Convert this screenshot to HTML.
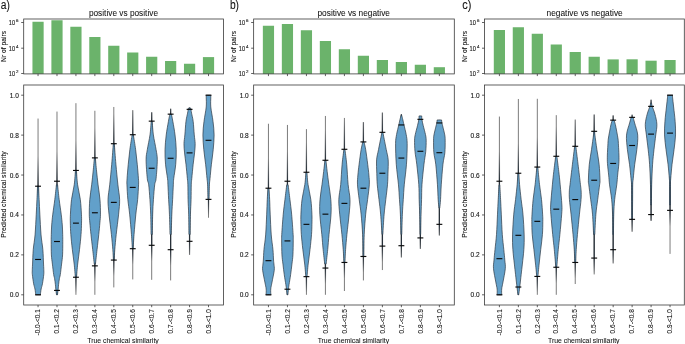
<!DOCTYPE html><html><head><meta charset="utf-8"><style>html,body{margin:0;padding:0;background:#fff;width:685px;height:344px;overflow:hidden}svg{display:block}text{font-family:"Liberation Sans", sans-serif;fill:#111;stroke:#111;stroke-width:0.1px}</style></head><body>
<svg width="685" height="344" viewBox="0 0 685 344">
<rect width="685" height="344" fill="#fff"/>
<defs><filter id="gs" x="0" y="0" width="685" height="344" filterUnits="userSpaceOnUse"><feColorMatrix type="saturate" values="0"/></filter></defs>
<rect x="32.45" y="21.75" width="11.2" height="52.15" fill="#6bb36b"/>
<rect x="51.39" y="20.25" width="11.2" height="53.65" fill="#6bb36b"/>
<rect x="70.33" y="26.75" width="11.2" height="47.15" fill="#6bb36b"/>
<rect x="89.27" y="37.00" width="11.2" height="36.90" fill="#6bb36b"/>
<rect x="108.21" y="45.75" width="11.2" height="28.15" fill="#6bb36b"/>
<rect x="127.15" y="52.50" width="11.2" height="21.40" fill="#6bb36b"/>
<rect x="146.09" y="56.75" width="11.2" height="17.15" fill="#6bb36b"/>
<rect x="165.03" y="61.00" width="11.2" height="12.90" fill="#6bb36b"/>
<rect x="183.97" y="63.75" width="11.2" height="10.15" fill="#6bb36b"/>
<rect x="202.91" y="57.10" width="11.2" height="16.80" fill="#6bb36b"/>
<rect x="23.70" y="19.00" width="199.80" height="54.90" fill="none" stroke="#3a3a3a" stroke-width="0.8"/>
<line x1="38.05" y1="73.90" x2="38.05" y2="76.10" stroke="#3a3a3a" stroke-width="0.8"/>
<line x1="56.99" y1="73.90" x2="56.99" y2="76.10" stroke="#3a3a3a" stroke-width="0.8"/>
<line x1="75.93" y1="73.90" x2="75.93" y2="76.10" stroke="#3a3a3a" stroke-width="0.8"/>
<line x1="94.87" y1="73.90" x2="94.87" y2="76.10" stroke="#3a3a3a" stroke-width="0.8"/>
<line x1="113.81" y1="73.90" x2="113.81" y2="76.10" stroke="#3a3a3a" stroke-width="0.8"/>
<line x1="132.75" y1="73.90" x2="132.75" y2="76.10" stroke="#3a3a3a" stroke-width="0.8"/>
<line x1="151.69" y1="73.90" x2="151.69" y2="76.10" stroke="#3a3a3a" stroke-width="0.8"/>
<line x1="170.63" y1="73.90" x2="170.63" y2="76.10" stroke="#3a3a3a" stroke-width="0.8"/>
<line x1="189.57" y1="73.90" x2="189.57" y2="76.10" stroke="#3a3a3a" stroke-width="0.8"/>
<line x1="208.51" y1="73.90" x2="208.51" y2="76.10" stroke="#3a3a3a" stroke-width="0.8"/>
<line x1="21.20" y1="22.50" x2="23.70" y2="22.50" stroke="#3a3a3a" stroke-width="0.8"/>
<line x1="21.20" y1="48.20" x2="23.70" y2="48.20" stroke="#3a3a3a" stroke-width="0.8"/>
<line x1="21.20" y1="73.50" x2="23.70" y2="73.50" stroke="#3a3a3a" stroke-width="0.8"/>
<rect x="23.70" y="85.00" width="199.80" height="220.00" fill="none" stroke="#3a3a3a" stroke-width="0.8"/>
<line x1="21.20" y1="294.80" x2="23.70" y2="294.80" stroke="#3a3a3a" stroke-width="0.8"/>
<line x1="21.20" y1="254.88" x2="23.70" y2="254.88" stroke="#3a3a3a" stroke-width="0.8"/>
<line x1="21.20" y1="214.96" x2="23.70" y2="214.96" stroke="#3a3a3a" stroke-width="0.8"/>
<line x1="21.20" y1="175.04" x2="23.70" y2="175.04" stroke="#3a3a3a" stroke-width="0.8"/>
<line x1="21.20" y1="135.12" x2="23.70" y2="135.12" stroke="#3a3a3a" stroke-width="0.8"/>
<line x1="21.20" y1="95.20" x2="23.70" y2="95.20" stroke="#3a3a3a" stroke-width="0.8"/>
<line x1="38.05" y1="305.00" x2="38.05" y2="307.20" stroke="#3a3a3a" stroke-width="0.8"/>
<line x1="56.99" y1="305.00" x2="56.99" y2="307.20" stroke="#3a3a3a" stroke-width="0.8"/>
<line x1="75.93" y1="305.00" x2="75.93" y2="307.20" stroke="#3a3a3a" stroke-width="0.8"/>
<line x1="94.87" y1="305.00" x2="94.87" y2="307.20" stroke="#3a3a3a" stroke-width="0.8"/>
<line x1="113.81" y1="305.00" x2="113.81" y2="307.20" stroke="#3a3a3a" stroke-width="0.8"/>
<line x1="132.75" y1="305.00" x2="132.75" y2="307.20" stroke="#3a3a3a" stroke-width="0.8"/>
<line x1="151.69" y1="305.00" x2="151.69" y2="307.20" stroke="#3a3a3a" stroke-width="0.8"/>
<line x1="170.63" y1="305.00" x2="170.63" y2="307.20" stroke="#3a3a3a" stroke-width="0.8"/>
<line x1="189.57" y1="305.00" x2="189.57" y2="307.20" stroke="#3a3a3a" stroke-width="0.8"/>
<line x1="208.51" y1="305.00" x2="208.51" y2="307.20" stroke="#3a3a3a" stroke-width="0.8"/>
<line x1="38.05" y1="118.55" x2="38.05" y2="294.80" stroke="#7c7c7c" stroke-width="1.0"/>
<linearGradient id="g0_0" gradientUnits="userSpaceOnUse" x1="0" y1="156.08" x2="0" y2="294.80"><stop offset="0.0000" stop-color="#1c2630" stop-opacity="0.00"/><stop offset="0.1295" stop-color="#1c2630" stop-opacity="0.55"/><stop offset="0.2158" stop-color="#1c2630" stop-opacity="0.90"/><stop offset="1.0000" stop-color="#1c2630" stop-opacity="0.90"/><stop offset="1.0000" stop-color="#1c2630" stop-opacity="0.55"/><stop offset="1.0000" stop-color="#1c2630" stop-opacity="0.90"/></linearGradient>
<line x1="38.05" y1="156.08" x2="38.05" y2="294.80" stroke="url(#g0_0)" stroke-width="1.3"/>
<path d="M40.35,294.80 C40.48,293.84 40.80,290.84 41.15,289.01 C41.50,287.18 42.02,286.22 42.45,283.82 C42.88,281.43 43.52,276.80 43.75,274.64 C43.98,272.48 43.88,272.61 43.85,270.85 C43.82,269.08 43.72,267.62 43.55,264.06 C43.38,260.50 43.27,254.35 42.85,249.49 C42.43,244.63 41.55,240.81 41.05,234.92 C40.55,229.03 40.17,220.05 39.85,214.16 C39.53,208.27 39.37,204.28 39.15,199.59 C38.93,194.90 38.65,188.28 38.55,186.02 L37.55,186.02 C37.45,188.28 37.17,194.90 36.95,199.59 C36.73,204.28 36.57,208.27 36.25,214.16 C35.93,220.05 35.55,229.03 35.05,234.92 C34.55,240.81 33.67,244.63 33.25,249.49 C32.83,254.35 32.72,260.50 32.55,264.06 C32.38,267.62 32.28,269.08 32.25,270.85 C32.22,272.61 32.12,272.48 32.35,274.64 C32.58,276.80 33.22,281.43 33.65,283.82 C34.08,286.22 34.60,287.18 34.95,289.01 C35.30,290.84 35.62,293.84 35.75,294.80 Z" fill="#62a0ca" stroke="#2c3844" stroke-width="0.7"/>
<line x1="35.10" y1="294.80" x2="41.00" y2="294.80" stroke="#0a0a0a" stroke-width="1.15"/>
<line x1="35.10" y1="259.47" x2="41.00" y2="259.47" stroke="#0a0a0a" stroke-width="1.15"/>
<line x1="35.10" y1="186.22" x2="41.00" y2="186.22" stroke="#0a0a0a" stroke-width="1.15"/>
<line x1="56.99" y1="111.57" x2="56.99" y2="294.80" stroke="#7c7c7c" stroke-width="1.0"/>
<linearGradient id="g0_1" gradientUnits="userSpaceOnUse" x1="0" y1="151.29" x2="0" y2="294.80"><stop offset="0.0000" stop-color="#1c2630" stop-opacity="0.00"/><stop offset="0.1252" stop-color="#1c2630" stop-opacity="0.55"/><stop offset="0.2086" stop-color="#1c2630" stop-opacity="0.90"/><stop offset="1.0000" stop-color="#1c2630" stop-opacity="0.90"/><stop offset="1.0000" stop-color="#1c2630" stop-opacity="0.55"/><stop offset="1.0000" stop-color="#1c2630" stop-opacity="0.90"/></linearGradient>
<line x1="56.99" y1="151.29" x2="56.99" y2="294.80" stroke="url(#g0_1)" stroke-width="1.3"/>
<path d="M57.49,294.80 C57.61,293.84 58.01,290.71 58.19,289.01 C58.37,287.31 58.39,286.35 58.59,284.62 C58.79,282.89 59.11,280.30 59.39,278.63 C59.67,276.97 59.92,277.07 60.29,274.64 C60.66,272.21 61.21,267.36 61.59,264.06 C61.97,260.77 62.39,258.61 62.59,254.88 C62.79,251.15 62.77,245.10 62.79,241.71 C62.81,238.31 62.77,237.32 62.69,234.52 C62.61,231.73 62.54,228.33 62.29,224.94 C62.04,221.55 61.71,218.39 61.19,214.16 C60.67,209.94 59.79,204.48 59.19,199.59 C58.59,194.70 57.86,187.28 57.59,184.82 L56.39,184.82 C56.12,187.28 55.39,194.70 54.79,199.59 C54.19,204.48 53.31,209.94 52.79,214.16 C52.27,218.39 51.94,221.55 51.69,224.94 C51.44,228.33 51.37,231.73 51.29,234.52 C51.21,237.32 51.17,238.31 51.19,241.71 C51.21,245.10 51.19,251.15 51.39,254.88 C51.59,258.61 52.01,260.77 52.39,264.06 C52.77,267.36 53.32,272.21 53.69,274.64 C54.06,277.07 54.31,276.97 54.59,278.63 C54.87,280.30 55.19,282.89 55.39,284.62 C55.59,286.35 55.61,287.31 55.79,289.01 C55.97,290.71 56.37,293.84 56.49,294.80 Z" fill="#62a0ca" stroke="#2c3844" stroke-width="0.7"/>
<line x1="54.04" y1="290.41" x2="59.94" y2="290.41" stroke="#0a0a0a" stroke-width="1.15"/>
<line x1="54.04" y1="241.51" x2="59.94" y2="241.51" stroke="#0a0a0a" stroke-width="1.15"/>
<line x1="54.04" y1="181.23" x2="59.94" y2="181.23" stroke="#0a0a0a" stroke-width="1.15"/>
<line x1="75.93" y1="103.18" x2="75.93" y2="294.80" stroke="#7c7c7c" stroke-width="1.0"/>
<linearGradient id="g0_2" gradientUnits="userSpaceOnUse" x1="0" y1="140.51" x2="0" y2="293.20"><stop offset="0.0000" stop-color="#1c2630" stop-opacity="0.00"/><stop offset="0.1176" stop-color="#1c2630" stop-opacity="0.55"/><stop offset="0.1961" stop-color="#1c2630" stop-opacity="0.90"/><stop offset="0.8954" stop-color="#1c2630" stop-opacity="0.90"/><stop offset="0.9412" stop-color="#1c2630" stop-opacity="0.55"/><stop offset="1.0000" stop-color="#1c2630" stop-opacity="0.00"/></linearGradient>
<line x1="75.93" y1="140.51" x2="75.93" y2="293.20" stroke="url(#g0_2)" stroke-width="1.3"/>
<path d="M76.53,277.24 C76.72,275.04 77.18,268.69 77.68,264.06 C78.18,259.44 78.97,254.41 79.53,249.49 C80.09,244.57 80.70,238.91 81.03,234.52 C81.36,230.13 81.46,226.54 81.53,223.14 C81.60,219.75 81.63,218.09 81.43,214.16 C81.23,210.24 80.96,204.48 80.33,199.59 C79.70,194.70 78.28,189.68 77.63,184.82 C76.98,179.96 76.63,172.84 76.43,170.45 L75.43,170.45 C75.23,172.84 74.88,179.96 74.23,184.82 C73.58,189.68 72.16,194.70 71.53,199.59 C70.90,204.48 70.63,210.24 70.43,214.16 C70.23,218.09 70.26,219.75 70.33,223.14 C70.40,226.54 70.50,230.13 70.83,234.52 C71.16,238.91 71.77,244.57 72.33,249.49 C72.89,254.41 73.68,259.44 74.18,264.06 C74.68,268.69 75.14,275.04 75.33,277.24 Z" fill="#62a0ca" stroke="#2c3844" stroke-width="0.7"/>
<line x1="72.98" y1="277.24" x2="78.88" y2="277.24" stroke="#0a0a0a" stroke-width="1.15"/>
<line x1="72.98" y1="223.14" x2="78.88" y2="223.14" stroke="#0a0a0a" stroke-width="1.15"/>
<line x1="72.98" y1="170.45" x2="78.88" y2="170.45" stroke="#0a0a0a" stroke-width="1.15"/>
<line x1="94.87" y1="110.77" x2="94.87" y2="294.80" stroke="#7c7c7c" stroke-width="1.0"/>
<linearGradient id="g0_3" gradientUnits="userSpaceOnUse" x1="0" y1="127.93" x2="0" y2="281.83"><stop offset="0.0000" stop-color="#1c2630" stop-opacity="0.00"/><stop offset="0.1167" stop-color="#1c2630" stop-opacity="0.55"/><stop offset="0.1946" stop-color="#1c2630" stop-opacity="0.90"/><stop offset="0.8962" stop-color="#1c2630" stop-opacity="0.90"/><stop offset="0.9416" stop-color="#1c2630" stop-opacity="0.55"/><stop offset="1.0000" stop-color="#1c2630" stop-opacity="0.00"/></linearGradient>
<line x1="94.87" y1="127.93" x2="94.87" y2="281.83" stroke="url(#g0_3)" stroke-width="1.3"/>
<path d="M95.47,264.06 C95.74,261.63 96.52,254.41 97.07,249.49 C97.62,244.57 98.30,238.95 98.77,234.52 C99.24,230.10 99.59,226.34 99.87,222.94 C100.15,219.55 100.45,218.05 100.47,214.16 C100.49,210.27 100.37,204.48 99.97,199.59 C99.57,194.70 98.64,189.58 98.07,184.82 C97.50,180.06 97.02,175.54 96.57,171.05 C96.12,166.56 95.57,160.07 95.37,157.87 L94.37,157.87 C94.17,160.07 93.62,166.56 93.17,171.05 C92.72,175.54 92.24,180.06 91.67,184.82 C91.10,189.58 90.17,194.70 89.77,199.59 C89.37,204.48 89.25,210.27 89.27,214.16 C89.29,218.05 89.59,219.55 89.87,222.94 C90.15,226.34 90.50,230.10 90.97,234.52 C91.44,238.95 92.12,244.57 92.67,249.49 C93.22,254.41 94.00,261.63 94.27,264.06 Z" fill="#62a0ca" stroke="#2c3844" stroke-width="0.7"/>
<line x1="91.92" y1="265.86" x2="97.82" y2="265.86" stroke="#0a0a0a" stroke-width="1.15"/>
<line x1="91.92" y1="212.76" x2="97.82" y2="212.76" stroke="#0a0a0a" stroke-width="1.15"/>
<line x1="91.92" y1="157.87" x2="97.82" y2="157.87" stroke="#0a0a0a" stroke-width="1.15"/>
<line x1="113.81" y1="106.98" x2="113.81" y2="287.41" stroke="#7c7c7c" stroke-width="1.0"/>
<linearGradient id="g0_4" gradientUnits="userSpaceOnUse" x1="0" y1="113.76" x2="0" y2="276.04"><stop offset="0.0000" stop-color="#1c2630" stop-opacity="0.00"/><stop offset="0.1107" stop-color="#1c2630" stop-opacity="0.55"/><stop offset="0.1845" stop-color="#1c2630" stop-opacity="0.90"/><stop offset="0.9016" stop-color="#1c2630" stop-opacity="0.90"/><stop offset="0.9446" stop-color="#1c2630" stop-opacity="0.55"/><stop offset="1.0000" stop-color="#1c2630" stop-opacity="0.00"/></linearGradient>
<line x1="113.81" y1="113.76" x2="113.81" y2="276.04" stroke="url(#g0_4)" stroke-width="1.3"/>
<path d="M114.21,260.07 C114.31,258.31 114.48,253.75 114.81,249.49 C115.14,245.23 115.58,240.41 116.21,234.52 C116.84,228.63 118.04,219.98 118.61,214.16 C119.18,208.34 119.73,204.48 119.61,199.59 C119.49,194.70 118.53,190.71 117.91,184.82 C117.29,178.93 116.51,171.11 115.91,164.26 C115.31,157.41 114.58,147.13 114.31,143.70 L113.31,143.70 C113.04,147.13 112.31,157.41 111.71,164.26 C111.11,171.11 110.33,178.93 109.71,184.82 C109.09,190.71 108.13,194.70 108.01,199.59 C107.89,204.48 108.44,208.34 109.01,214.16 C109.58,219.98 110.78,228.63 111.41,234.52 C112.04,240.41 112.48,245.23 112.81,249.49 C113.14,253.75 113.31,258.31 113.41,260.07 Z" fill="#62a0ca" stroke="#2c3844" stroke-width="0.7"/>
<line x1="110.86" y1="260.07" x2="116.76" y2="260.07" stroke="#0a0a0a" stroke-width="1.15"/>
<line x1="110.86" y1="202.39" x2="116.76" y2="202.39" stroke="#0a0a0a" stroke-width="1.15"/>
<line x1="110.86" y1="143.70" x2="116.76" y2="143.70" stroke="#0a0a0a" stroke-width="1.15"/>
<line x1="132.75" y1="110.17" x2="132.75" y2="279.43" stroke="#7c7c7c" stroke-width="1.0"/>
<linearGradient id="g0_5" gradientUnits="userSpaceOnUse" x1="0" y1="110.17" x2="0" y2="264.66"><stop offset="0.0000" stop-color="#1c2630" stop-opacity="0.16"/><stop offset="0.0814" stop-color="#1c2630" stop-opacity="0.55"/><stop offset="0.1589" stop-color="#1c2630" stop-opacity="0.90"/><stop offset="0.8966" stop-color="#1c2630" stop-opacity="0.90"/><stop offset="0.9419" stop-color="#1c2630" stop-opacity="0.55"/><stop offset="1.0000" stop-color="#1c2630" stop-opacity="0.00"/></linearGradient>
<line x1="132.75" y1="110.17" x2="132.75" y2="264.66" stroke="url(#g0_5)" stroke-width="1.3"/>
<path d="M133.15,248.69 C133.30,246.33 133.60,240.28 134.05,234.52 C134.50,228.77 135.25,219.98 135.85,214.16 C136.45,208.34 137.20,204.48 137.65,199.59 C138.10,194.70 138.42,188.28 138.55,184.82 C138.68,181.36 138.67,182.26 138.45,178.83 C138.23,175.41 137.72,169.12 137.25,164.26 C136.78,159.40 136.30,154.61 135.65,149.69 C135.00,144.77 133.73,137.22 133.35,134.72 L132.15,134.72 C131.77,137.22 130.50,144.77 129.85,149.69 C129.20,154.61 128.72,159.40 128.25,164.26 C127.78,169.12 127.27,175.41 127.05,178.83 C126.83,182.26 126.82,181.36 126.95,184.82 C127.08,188.28 127.40,194.70 127.85,199.59 C128.30,204.48 129.05,208.34 129.65,214.16 C130.25,219.98 131.00,228.77 131.45,234.52 C131.90,240.28 132.20,246.33 132.35,248.69 Z" fill="#62a0ca" stroke="#2c3844" stroke-width="0.7"/>
<line x1="129.80" y1="248.69" x2="135.70" y2="248.69" stroke="#0a0a0a" stroke-width="1.15"/>
<line x1="129.80" y1="187.42" x2="135.70" y2="187.42" stroke="#0a0a0a" stroke-width="1.15"/>
<line x1="129.80" y1="134.72" x2="135.70" y2="134.72" stroke="#0a0a0a" stroke-width="1.15"/>
<line x1="151.69" y1="112.37" x2="151.69" y2="279.83" stroke="#7c7c7c" stroke-width="1.0"/>
<linearGradient id="g0_6" gradientUnits="userSpaceOnUse" x1="0" y1="112.37" x2="0" y2="261.27"><stop offset="0.0000" stop-color="#1c2630" stop-opacity="0.64"/><stop offset="0.0000" stop-color="#1c2630" stop-opacity="0.55"/><stop offset="0.0590" stop-color="#1c2630" stop-opacity="0.90"/><stop offset="0.8928" stop-color="#1c2630" stop-opacity="0.90"/><stop offset="0.9397" stop-color="#1c2630" stop-opacity="0.55"/><stop offset="1.0000" stop-color="#1c2630" stop-opacity="0.00"/></linearGradient>
<line x1="151.69" y1="112.37" x2="151.69" y2="261.27" stroke="url(#g0_6)" stroke-width="1.3"/>
<path d="M152.29,234.52 C152.36,231.13 152.50,219.98 152.69,214.16 C152.88,208.34 153.11,204.48 153.44,199.59 C153.77,194.70 154.25,188.31 154.69,184.82 C155.13,181.33 155.66,182.79 156.09,178.63 C156.52,174.47 157.29,164.69 157.29,159.87 C157.29,155.05 156.74,153.85 156.09,149.69 C155.44,145.53 154.04,139.64 153.39,134.92 C152.74,130.20 152.39,123.61 152.19,121.35 L151.19,121.35 C150.99,123.61 150.64,130.20 149.99,134.92 C149.34,139.64 147.94,145.53 147.29,149.69 C146.64,153.85 146.09,155.05 146.09,159.87 C146.09,164.69 146.86,174.47 147.29,178.63 C147.72,182.79 148.25,181.33 148.69,184.82 C149.13,188.31 149.61,194.70 149.94,199.59 C150.27,204.48 150.50,208.34 150.69,214.16 C150.88,219.98 151.02,231.13 151.09,234.52 Z" fill="#62a0ca" stroke="#2c3844" stroke-width="0.7"/>
<line x1="148.74" y1="245.30" x2="154.64" y2="245.30" stroke="#0a0a0a" stroke-width="1.15"/>
<line x1="148.74" y1="168.25" x2="154.64" y2="168.25" stroke="#0a0a0a" stroke-width="1.15"/>
<line x1="148.74" y1="121.15" x2="154.64" y2="121.15" stroke="#0a0a0a" stroke-width="1.15"/>
<line x1="170.63" y1="108.77" x2="170.63" y2="280.43" stroke="#7c7c7c" stroke-width="1.0"/>
<linearGradient id="g0_7" gradientUnits="userSpaceOnUse" x1="0" y1="108.77" x2="0" y2="265.66"><stop offset="0.0000" stop-color="#1c2630" stop-opacity="0.74"/><stop offset="0.0000" stop-color="#1c2630" stop-opacity="0.55"/><stop offset="0.0344" stop-color="#1c2630" stop-opacity="0.90"/><stop offset="0.8982" stop-color="#1c2630" stop-opacity="0.90"/><stop offset="0.9427" stop-color="#1c2630" stop-opacity="0.55"/><stop offset="1.0000" stop-color="#1c2630" stop-opacity="0.00"/></linearGradient>
<line x1="170.63" y1="108.77" x2="170.63" y2="265.66" stroke="url(#g0_7)" stroke-width="1.3"/>
<path d="M171.23,234.52 C171.33,231.13 171.60,219.98 171.83,214.16 C172.06,208.34 172.38,204.48 172.63,199.59 C172.88,194.70 173.15,188.31 173.33,184.82 C173.51,181.33 173.33,182.06 173.73,178.63 C174.13,175.21 175.31,169.09 175.73,164.26 C176.15,159.44 176.35,154.58 176.23,149.69 C176.11,144.80 175.60,139.64 175.03,134.92 C174.46,130.20 173.43,124.81 172.83,121.35 C172.23,117.89 171.66,115.36 171.43,114.16 L169.83,114.16 C169.60,115.36 169.03,117.89 168.43,121.35 C167.83,124.81 166.80,130.20 166.23,134.92 C165.66,139.64 165.15,144.80 165.03,149.69 C164.91,154.58 165.11,159.44 165.53,164.26 C165.95,169.09 167.13,175.21 167.53,178.63 C167.93,182.06 167.75,181.33 167.93,184.82 C168.11,188.31 168.38,194.70 168.63,199.59 C168.88,204.48 169.20,208.34 169.43,214.16 C169.66,219.98 169.93,231.13 170.03,234.52 Z" fill="#62a0ca" stroke="#2c3844" stroke-width="0.7"/>
<line x1="167.68" y1="249.69" x2="173.58" y2="249.69" stroke="#0a0a0a" stroke-width="1.15"/>
<line x1="167.68" y1="158.27" x2="173.58" y2="158.27" stroke="#0a0a0a" stroke-width="1.15"/>
<line x1="167.68" y1="114.16" x2="173.58" y2="114.16" stroke="#0a0a0a" stroke-width="1.15"/>
<line x1="189.57" y1="107.58" x2="189.57" y2="254.88" stroke="#7c7c7c" stroke-width="1.0"/>
<linearGradient id="g0_8" gradientUnits="userSpaceOnUse" x1="0" y1="107.58" x2="0" y2="254.88"><stop offset="0.0000" stop-color="#1c2630" stop-opacity="0.88"/><stop offset="0.0000" stop-color="#1c2630" stop-opacity="0.55"/><stop offset="0.0041" stop-color="#1c2630" stop-opacity="0.90"/><stop offset="0.9079" stop-color="#1c2630" stop-opacity="0.90"/><stop offset="0.9553" stop-color="#1c2630" stop-opacity="0.55"/><stop offset="1.0000" stop-color="#1c2630" stop-opacity="0.13"/></linearGradient>
<line x1="189.57" y1="107.58" x2="189.57" y2="254.88" stroke="url(#g0_8)" stroke-width="1.3"/>
<path d="M190.17,234.52 C190.22,231.13 190.32,219.98 190.47,214.16 C190.62,208.34 190.94,204.48 191.07,199.59 C191.20,194.70 191.15,188.31 191.27,184.82 C191.39,181.33 191.45,182.06 191.77,178.63 C192.09,175.21 192.70,168.55 193.17,164.26 C193.64,159.97 194.24,156.31 194.57,152.88 C194.90,149.46 195.22,146.70 195.17,143.70 C195.12,140.71 194.60,138.65 194.27,134.92 C193.94,131.19 193.62,124.97 193.17,121.35 C192.72,117.72 191.97,115.36 191.57,113.16 C191.17,110.97 190.90,109.01 190.77,108.17 L188.37,108.17 C188.24,109.01 187.97,110.97 187.57,113.16 C187.17,115.36 186.42,117.72 185.97,121.35 C185.52,124.97 185.20,131.19 184.87,134.92 C184.54,138.65 184.02,140.71 183.97,143.70 C183.92,146.70 184.24,149.46 184.57,152.88 C184.90,156.31 185.50,159.97 185.97,164.26 C186.44,168.55 187.05,175.21 187.37,178.63 C187.69,182.06 187.75,181.33 187.87,184.82 C187.99,188.31 187.94,194.70 188.07,199.59 C188.20,204.48 188.52,208.34 188.67,214.16 C188.82,219.98 188.92,231.13 188.97,234.52 Z" fill="#62a0ca" stroke="#2c3844" stroke-width="0.7"/>
<line x1="186.62" y1="241.31" x2="192.52" y2="241.31" stroke="#0a0a0a" stroke-width="1.15"/>
<line x1="186.62" y1="152.88" x2="192.52" y2="152.88" stroke="#0a0a0a" stroke-width="1.15"/>
<line x1="186.62" y1="109.37" x2="192.52" y2="109.37" stroke="#0a0a0a" stroke-width="1.15"/>
<line x1="208.51" y1="95.20" x2="208.51" y2="217.75" stroke="#7c7c7c" stroke-width="1.0"/>
<linearGradient id="g0_9" gradientUnits="userSpaceOnUse" x1="0" y1="95.20" x2="0" y2="215.36"><stop offset="0.0000" stop-color="#1c2630" stop-opacity="0.90"/><stop offset="0.0000" stop-color="#1c2630" stop-opacity="0.55"/><stop offset="0.0000" stop-color="#1c2630" stop-opacity="0.90"/><stop offset="0.8671" stop-color="#1c2630" stop-opacity="0.90"/><stop offset="0.9252" stop-color="#1c2630" stop-opacity="0.55"/><stop offset="1.0000" stop-color="#1c2630" stop-opacity="0.00"/></linearGradient>
<line x1="208.51" y1="95.20" x2="208.51" y2="215.36" stroke="url(#g0_9)" stroke-width="1.3"/>
<path d="M209.01,199.39 C209.08,196.96 209.24,188.28 209.41,184.82 C209.58,181.36 209.68,182.06 210.01,178.63 C210.34,175.21 210.88,169.09 211.41,164.26 C211.94,159.44 212.76,154.58 213.21,149.69 C213.66,144.80 214.14,139.64 214.11,134.92 C214.08,130.20 213.56,126.00 213.01,121.35 C212.46,116.69 211.18,111.00 210.81,106.98 C210.44,102.95 210.81,99.16 210.81,97.20 C210.81,95.23 210.81,95.53 210.81,95.20 L206.21,95.20 C206.21,95.53 206.21,95.23 206.21,97.20 C206.21,99.16 206.58,102.95 206.21,106.98 C205.84,111.00 204.56,116.69 204.01,121.35 C203.46,126.00 202.94,130.20 202.91,134.92 C202.88,139.64 203.36,144.80 203.81,149.69 C204.26,154.58 205.08,159.44 205.61,164.26 C206.14,169.09 206.68,175.21 207.01,178.63 C207.34,182.06 207.44,181.36 207.61,184.82 C207.78,188.28 207.94,196.96 208.01,199.39 Z" fill="#62a0ca" stroke="#2c3844" stroke-width="0.7"/>
<line x1="205.56" y1="199.39" x2="211.46" y2="199.39" stroke="#0a0a0a" stroke-width="1.15"/>
<line x1="205.56" y1="140.31" x2="211.46" y2="140.31" stroke="#0a0a0a" stroke-width="1.15"/>
<line x1="205.56" y1="95.20" x2="211.46" y2="95.20" stroke="#0a0a0a" stroke-width="1.15"/>
<rect x="262.85" y="25.75" width="11.2" height="48.15" fill="#6bb36b"/>
<rect x="281.84" y="24.00" width="11.2" height="49.90" fill="#6bb36b"/>
<rect x="300.83" y="30.25" width="11.2" height="43.65" fill="#6bb36b"/>
<rect x="319.82" y="41.00" width="11.2" height="32.90" fill="#6bb36b"/>
<rect x="338.81" y="49.25" width="11.2" height="24.65" fill="#6bb36b"/>
<rect x="357.80" y="55.75" width="11.2" height="18.15" fill="#6bb36b"/>
<rect x="376.79" y="60.00" width="11.2" height="13.90" fill="#6bb36b"/>
<rect x="395.78" y="62.00" width="11.2" height="11.90" fill="#6bb36b"/>
<rect x="414.77" y="64.75" width="11.2" height="9.15" fill="#6bb36b"/>
<rect x="433.76" y="67.20" width="11.2" height="6.70" fill="#6bb36b"/>
<rect x="253.65" y="19.00" width="200.65" height="54.90" fill="none" stroke="#3a3a3a" stroke-width="0.8"/>
<line x1="268.45" y1="73.90" x2="268.45" y2="76.10" stroke="#3a3a3a" stroke-width="0.8"/>
<line x1="287.44" y1="73.90" x2="287.44" y2="76.10" stroke="#3a3a3a" stroke-width="0.8"/>
<line x1="306.43" y1="73.90" x2="306.43" y2="76.10" stroke="#3a3a3a" stroke-width="0.8"/>
<line x1="325.42" y1="73.90" x2="325.42" y2="76.10" stroke="#3a3a3a" stroke-width="0.8"/>
<line x1="344.41" y1="73.90" x2="344.41" y2="76.10" stroke="#3a3a3a" stroke-width="0.8"/>
<line x1="363.40" y1="73.90" x2="363.40" y2="76.10" stroke="#3a3a3a" stroke-width="0.8"/>
<line x1="382.39" y1="73.90" x2="382.39" y2="76.10" stroke="#3a3a3a" stroke-width="0.8"/>
<line x1="401.38" y1="73.90" x2="401.38" y2="76.10" stroke="#3a3a3a" stroke-width="0.8"/>
<line x1="420.37" y1="73.90" x2="420.37" y2="76.10" stroke="#3a3a3a" stroke-width="0.8"/>
<line x1="439.36" y1="73.90" x2="439.36" y2="76.10" stroke="#3a3a3a" stroke-width="0.8"/>
<line x1="251.15" y1="22.50" x2="253.65" y2="22.50" stroke="#3a3a3a" stroke-width="0.8"/>
<line x1="251.15" y1="48.20" x2="253.65" y2="48.20" stroke="#3a3a3a" stroke-width="0.8"/>
<line x1="251.15" y1="73.50" x2="253.65" y2="73.50" stroke="#3a3a3a" stroke-width="0.8"/>
<rect x="253.65" y="85.00" width="200.65" height="220.00" fill="none" stroke="#3a3a3a" stroke-width="0.8"/>
<line x1="251.15" y1="294.80" x2="253.65" y2="294.80" stroke="#3a3a3a" stroke-width="0.8"/>
<line x1="251.15" y1="254.88" x2="253.65" y2="254.88" stroke="#3a3a3a" stroke-width="0.8"/>
<line x1="251.15" y1="214.96" x2="253.65" y2="214.96" stroke="#3a3a3a" stroke-width="0.8"/>
<line x1="251.15" y1="175.04" x2="253.65" y2="175.04" stroke="#3a3a3a" stroke-width="0.8"/>
<line x1="251.15" y1="135.12" x2="253.65" y2="135.12" stroke="#3a3a3a" stroke-width="0.8"/>
<line x1="251.15" y1="95.20" x2="253.65" y2="95.20" stroke="#3a3a3a" stroke-width="0.8"/>
<line x1="268.45" y1="305.00" x2="268.45" y2="307.20" stroke="#3a3a3a" stroke-width="0.8"/>
<line x1="287.44" y1="305.00" x2="287.44" y2="307.20" stroke="#3a3a3a" stroke-width="0.8"/>
<line x1="306.43" y1="305.00" x2="306.43" y2="307.20" stroke="#3a3a3a" stroke-width="0.8"/>
<line x1="325.42" y1="305.00" x2="325.42" y2="307.20" stroke="#3a3a3a" stroke-width="0.8"/>
<line x1="344.41" y1="305.00" x2="344.41" y2="307.20" stroke="#3a3a3a" stroke-width="0.8"/>
<line x1="363.40" y1="305.00" x2="363.40" y2="307.20" stroke="#3a3a3a" stroke-width="0.8"/>
<line x1="382.39" y1="305.00" x2="382.39" y2="307.20" stroke="#3a3a3a" stroke-width="0.8"/>
<line x1="401.38" y1="305.00" x2="401.38" y2="307.20" stroke="#3a3a3a" stroke-width="0.8"/>
<line x1="420.37" y1="305.00" x2="420.37" y2="307.20" stroke="#3a3a3a" stroke-width="0.8"/>
<line x1="439.36" y1="305.00" x2="439.36" y2="307.20" stroke="#3a3a3a" stroke-width="0.8"/>
<line x1="268.45" y1="123.74" x2="268.45" y2="294.80" stroke="#7c7c7c" stroke-width="1.0"/>
<linearGradient id="g1_0" gradientUnits="userSpaceOnUse" x1="0" y1="158.27" x2="0" y2="294.80"><stop offset="0.0000" stop-color="#1c2630" stop-opacity="0.00"/><stop offset="0.1316" stop-color="#1c2630" stop-opacity="0.55"/><stop offset="0.2193" stop-color="#1c2630" stop-opacity="0.90"/><stop offset="1.0000" stop-color="#1c2630" stop-opacity="0.90"/><stop offset="1.0000" stop-color="#1c2630" stop-opacity="0.55"/><stop offset="1.0000" stop-color="#1c2630" stop-opacity="0.90"/></linearGradient>
<line x1="268.45" y1="158.27" x2="268.45" y2="294.80" stroke="url(#g1_0)" stroke-width="1.3"/>
<path d="M270.85,294.80 C270.83,293.84 270.55,291.14 270.75,289.01 C270.95,286.88 271.47,285.15 272.05,282.03 C272.63,278.90 273.93,273.24 274.25,270.25 C274.57,267.26 274.07,265.76 273.95,264.06 C273.83,262.37 273.72,262.50 273.55,260.07 C273.38,257.64 273.33,253.68 272.95,249.49 C272.57,245.30 271.71,240.81 271.25,234.92 C270.79,229.03 270.47,220.05 270.20,214.16 C269.93,208.27 269.86,203.92 269.65,199.59 C269.44,195.27 269.07,190.11 268.95,188.21 L267.95,188.21 C267.83,190.11 267.46,195.27 267.25,199.59 C267.04,203.92 266.97,208.27 266.70,214.16 C266.43,220.05 266.11,229.03 265.65,234.92 C265.19,240.81 264.33,245.30 263.95,249.49 C263.57,253.68 263.52,257.64 263.35,260.07 C263.18,262.50 263.07,262.37 262.95,264.06 C262.83,265.76 262.33,267.26 262.65,270.25 C262.97,273.24 264.27,278.90 264.85,282.03 C265.43,285.15 265.95,286.88 266.15,289.01 C266.35,291.14 266.07,293.84 266.05,294.80 Z" fill="#62a0ca" stroke="#2c3844" stroke-width="0.7"/>
<line x1="265.50" y1="294.80" x2="271.40" y2="294.80" stroke="#0a0a0a" stroke-width="1.15"/>
<line x1="265.50" y1="260.67" x2="271.40" y2="260.67" stroke="#0a0a0a" stroke-width="1.15"/>
<line x1="265.50" y1="188.21" x2="271.40" y2="188.21" stroke="#0a0a0a" stroke-width="1.15"/>
<line x1="287.44" y1="124.94" x2="287.44" y2="294.80" stroke="#7c7c7c" stroke-width="1.0"/>
<linearGradient id="g1_1" gradientUnits="userSpaceOnUse" x1="0" y1="151.29" x2="0" y2="294.80"><stop offset="0.0000" stop-color="#1c2630" stop-opacity="0.00"/><stop offset="0.1252" stop-color="#1c2630" stop-opacity="0.55"/><stop offset="0.2086" stop-color="#1c2630" stop-opacity="0.90"/><stop offset="1.0000" stop-color="#1c2630" stop-opacity="0.90"/><stop offset="1.0000" stop-color="#1c2630" stop-opacity="0.55"/><stop offset="1.0000" stop-color="#1c2630" stop-opacity="0.90"/></linearGradient>
<line x1="287.44" y1="151.29" x2="287.44" y2="294.80" stroke="url(#g1_1)" stroke-width="1.3"/>
<path d="M287.84,294.80 C287.94,293.87 288.24,290.91 288.44,289.21 C288.64,287.51 288.67,287.05 289.04,284.62 C289.41,282.19 290.16,278.07 290.64,274.64 C291.12,271.21 291.56,267.36 291.94,264.06 C292.32,260.77 292.72,258.74 292.94,254.88 C293.16,251.02 293.21,244.30 293.24,240.91 C293.27,237.51 293.41,238.98 293.14,234.52 C292.87,230.06 292.17,219.98 291.64,214.16 C291.11,208.34 290.52,204.48 289.94,199.59 C289.36,194.70 288.44,187.28 288.14,184.82 L286.74,184.82 C286.44,187.28 285.52,194.70 284.94,199.59 C284.36,204.48 283.77,208.34 283.24,214.16 C282.71,219.98 282.01,230.06 281.74,234.52 C281.47,238.98 281.61,237.51 281.64,240.91 C281.67,244.30 281.72,251.02 281.94,254.88 C282.16,258.74 282.56,260.77 282.94,264.06 C283.32,267.36 283.76,271.21 284.24,274.64 C284.72,278.07 285.47,282.19 285.84,284.62 C286.21,287.05 286.24,287.51 286.44,289.21 C286.64,290.91 286.94,293.87 287.04,294.80 Z" fill="#62a0ca" stroke="#2c3844" stroke-width="0.7"/>
<line x1="284.49" y1="289.21" x2="290.39" y2="289.21" stroke="#0a0a0a" stroke-width="1.15"/>
<line x1="284.49" y1="240.91" x2="290.39" y2="240.91" stroke="#0a0a0a" stroke-width="1.15"/>
<line x1="284.49" y1="181.23" x2="290.39" y2="181.23" stroke="#0a0a0a" stroke-width="1.15"/>
<line x1="306.43" y1="129.13" x2="306.43" y2="294.80" stroke="#7c7c7c" stroke-width="1.0"/>
<linearGradient id="g1_2" gradientUnits="userSpaceOnUse" x1="0" y1="142.31" x2="0" y2="292.60"><stop offset="0.0000" stop-color="#1c2630" stop-opacity="0.00"/><stop offset="0.1195" stop-color="#1c2630" stop-opacity="0.55"/><stop offset="0.1992" stop-color="#1c2630" stop-opacity="0.90"/><stop offset="0.8938" stop-color="#1c2630" stop-opacity="0.90"/><stop offset="0.9402" stop-color="#1c2630" stop-opacity="0.55"/><stop offset="1.0000" stop-color="#1c2630" stop-opacity="0.00"/></linearGradient>
<line x1="306.43" y1="142.31" x2="306.43" y2="292.60" stroke="url(#g1_2)" stroke-width="1.3"/>
<path d="M307.03,276.64 C307.22,274.54 307.68,268.59 308.18,264.06 C308.68,259.54 309.47,254.41 310.03,249.49 C310.59,244.57 311.21,238.71 311.53,234.52 C311.85,230.33 311.86,227.73 311.93,224.34 C312.00,220.95 312.11,218.29 311.93,214.16 C311.75,210.04 311.48,204.55 310.83,199.59 C310.18,194.63 308.68,188.98 308.03,184.42 C307.38,179.86 307.11,174.27 306.93,172.25 L305.93,172.25 C305.75,174.27 305.48,179.86 304.83,184.42 C304.18,188.98 302.68,194.63 302.03,199.59 C301.38,204.55 301.11,210.04 300.93,214.16 C300.75,218.29 300.86,220.95 300.93,224.34 C301.00,227.73 301.01,230.33 301.33,234.52 C301.65,238.71 302.27,244.57 302.83,249.49 C303.39,254.41 304.18,259.54 304.68,264.06 C305.18,268.59 305.64,274.54 305.83,276.64 Z" fill="#62a0ca" stroke="#2c3844" stroke-width="0.7"/>
<line x1="303.48" y1="276.64" x2="309.38" y2="276.64" stroke="#0a0a0a" stroke-width="1.15"/>
<line x1="303.48" y1="224.34" x2="309.38" y2="224.34" stroke="#0a0a0a" stroke-width="1.15"/>
<line x1="303.48" y1="172.25" x2="309.38" y2="172.25" stroke="#0a0a0a" stroke-width="1.15"/>
<line x1="325.42" y1="115.96" x2="325.42" y2="294.80" stroke="#7c7c7c" stroke-width="1.0"/>
<linearGradient id="g1_3" gradientUnits="userSpaceOnUse" x1="0" y1="130.33" x2="0" y2="284.02"><stop offset="0.0000" stop-color="#1c2630" stop-opacity="0.00"/><stop offset="0.1169" stop-color="#1c2630" stop-opacity="0.55"/><stop offset="0.1948" stop-color="#1c2630" stop-opacity="0.90"/><stop offset="0.8961" stop-color="#1c2630" stop-opacity="0.90"/><stop offset="0.9416" stop-color="#1c2630" stop-opacity="0.55"/><stop offset="1.0000" stop-color="#1c2630" stop-opacity="0.00"/></linearGradient>
<line x1="325.42" y1="130.33" x2="325.42" y2="284.02" stroke="url(#g1_3)" stroke-width="1.3"/>
<path d="M326.12,264.06 C326.39,261.63 327.24,254.41 327.72,249.49 C328.20,244.57 328.47,240.41 329.02,234.52 C329.57,228.63 330.72,219.98 331.02,214.16 C331.32,208.34 331.19,204.55 330.82,199.59 C330.45,194.63 329.43,189.11 328.82,184.42 C328.21,179.73 327.65,175.47 327.17,171.45 C326.69,167.42 326.13,162.13 325.92,160.27 L324.92,160.27 C324.71,162.13 324.15,167.42 323.67,171.45 C323.19,175.47 322.63,179.73 322.02,184.42 C321.41,189.11 320.39,194.63 320.02,199.59 C319.65,204.55 319.52,208.34 319.82,214.16 C320.12,219.98 321.27,228.63 321.82,234.52 C322.37,240.41 322.64,244.57 323.12,249.49 C323.60,254.41 324.45,261.63 324.72,264.06 Z" fill="#62a0ca" stroke="#2c3844" stroke-width="0.7"/>
<line x1="322.47" y1="268.05" x2="328.37" y2="268.05" stroke="#0a0a0a" stroke-width="1.15"/>
<line x1="322.47" y1="214.16" x2="328.37" y2="214.16" stroke="#0a0a0a" stroke-width="1.15"/>
<line x1="322.47" y1="160.27" x2="328.37" y2="160.27" stroke="#0a0a0a" stroke-width="1.15"/>
<line x1="344.41" y1="117.95" x2="344.41" y2="291.01" stroke="#7c7c7c" stroke-width="1.0"/>
<linearGradient id="g1_4" gradientUnits="userSpaceOnUse" x1="0" y1="119.35" x2="0" y2="278.43"><stop offset="0.0000" stop-color="#1c2630" stop-opacity="0.00"/><stop offset="0.1129" stop-color="#1c2630" stop-opacity="0.55"/><stop offset="0.1882" stop-color="#1c2630" stop-opacity="0.90"/><stop offset="0.8996" stop-color="#1c2630" stop-opacity="0.90"/><stop offset="0.9435" stop-color="#1c2630" stop-opacity="0.55"/><stop offset="1.0000" stop-color="#1c2630" stop-opacity="0.00"/></linearGradient>
<line x1="344.41" y1="119.35" x2="344.41" y2="278.43" stroke="url(#g1_4)" stroke-width="1.3"/>
<path d="M344.91,262.46 C345.03,260.30 345.28,254.15 345.61,249.49 C345.94,244.83 346.33,240.41 346.91,234.52 C347.49,228.63 348.59,219.98 349.11,214.16 C349.63,208.34 350.18,204.55 350.01,199.59 C349.84,194.63 348.66,190.31 348.11,184.42 C347.56,178.53 347.24,170.12 346.71,164.26 C346.18,158.41 345.21,151.79 344.91,149.29 L343.91,149.29 C343.61,151.79 342.64,158.41 342.11,164.26 C341.58,170.12 341.26,178.53 340.71,184.42 C340.16,190.31 338.98,194.63 338.81,199.59 C338.64,204.55 339.19,208.34 339.71,214.16 C340.23,219.98 341.33,228.63 341.91,234.52 C342.49,240.41 342.88,244.83 343.21,249.49 C343.54,254.15 343.79,260.30 343.91,262.46 Z" fill="#62a0ca" stroke="#2c3844" stroke-width="0.7"/>
<line x1="341.46" y1="262.46" x2="347.36" y2="262.46" stroke="#0a0a0a" stroke-width="1.15"/>
<line x1="341.46" y1="203.38" x2="347.36" y2="203.38" stroke="#0a0a0a" stroke-width="1.15"/>
<line x1="341.46" y1="149.29" x2="347.36" y2="149.29" stroke="#0a0a0a" stroke-width="1.15"/>
<line x1="363.40" y1="122.15" x2="363.40" y2="280.43" stroke="#7c7c7c" stroke-width="1.0"/>
<linearGradient id="g1_5" gradientUnits="userSpaceOnUse" x1="0" y1="122.15" x2="0" y2="272.44"><stop offset="0.0000" stop-color="#1c2630" stop-opacity="0.31"/><stop offset="0.0518" stop-color="#1c2630" stop-opacity="0.55"/><stop offset="0.1315" stop-color="#1c2630" stop-opacity="0.90"/><stop offset="0.8938" stop-color="#1c2630" stop-opacity="0.90"/><stop offset="0.9402" stop-color="#1c2630" stop-opacity="0.55"/><stop offset="1.0000" stop-color="#1c2630" stop-opacity="0.00"/></linearGradient>
<line x1="363.40" y1="122.15" x2="363.40" y2="272.44" stroke="url(#g1_5)" stroke-width="1.3"/>
<path d="M363.80,256.48 C363.87,252.82 363.88,241.57 364.20,234.52 C364.52,227.47 365.13,219.98 365.70,214.16 C366.27,208.34 367.00,204.48 367.60,199.59 C368.20,194.70 369.08,188.91 369.30,184.82 C369.52,180.73 369.17,178.47 368.90,175.04 C368.63,171.61 368.23,168.49 367.70,164.26 C367.17,160.04 366.32,153.42 365.70,149.69 C365.08,145.96 364.28,143.20 364.00,141.91 L362.80,141.91 C362.52,143.20 361.72,145.96 361.10,149.69 C360.48,153.42 359.63,160.04 359.10,164.26 C358.57,168.49 358.17,171.61 357.90,175.04 C357.63,178.47 357.28,180.73 357.50,184.82 C357.72,188.91 358.60,194.70 359.20,199.59 C359.80,204.48 360.53,208.34 361.10,214.16 C361.67,219.98 362.28,227.47 362.60,234.52 C362.92,241.57 362.93,252.82 363.00,256.48 Z" fill="#62a0ca" stroke="#2c3844" stroke-width="0.7"/>
<line x1="360.45" y1="256.48" x2="366.35" y2="256.48" stroke="#0a0a0a" stroke-width="1.15"/>
<line x1="360.45" y1="188.21" x2="366.35" y2="188.21" stroke="#0a0a0a" stroke-width="1.15"/>
<line x1="360.45" y1="141.91" x2="366.35" y2="141.91" stroke="#0a0a0a" stroke-width="1.15"/>
<line x1="382.39" y1="112.57" x2="382.39" y2="270.05" stroke="#7c7c7c" stroke-width="1.0"/>
<linearGradient id="g1_6" gradientUnits="userSpaceOnUse" x1="0" y1="112.57" x2="0" y2="262.07"><stop offset="0.0000" stop-color="#1c2630" stop-opacity="0.31"/><stop offset="0.0521" stop-color="#1c2630" stop-opacity="0.55"/><stop offset="0.1322" stop-color="#1c2630" stop-opacity="0.90"/><stop offset="0.8932" stop-color="#1c2630" stop-opacity="0.90"/><stop offset="0.9399" stop-color="#1c2630" stop-opacity="0.55"/><stop offset="1.0000" stop-color="#1c2630" stop-opacity="0.00"/></linearGradient>
<line x1="382.39" y1="112.57" x2="382.39" y2="262.07" stroke="url(#g1_6)" stroke-width="1.3"/>
<path d="M382.79,234.52 C383.01,231.13 383.64,219.98 384.14,214.16 C384.64,208.34 385.23,204.48 385.79,199.59 C386.35,194.70 387.12,189.21 387.49,184.82 C387.86,180.43 387.87,177.40 387.99,173.24 C388.11,169.09 388.47,163.80 388.19,159.87 C387.91,155.94 387.09,153.85 386.29,149.69 C385.49,145.53 383.94,137.81 383.39,134.92 C382.84,132.03 383.06,132.76 382.99,132.33 L381.79,132.33 C381.72,132.76 381.94,132.03 381.39,134.92 C380.84,137.81 379.29,145.53 378.49,149.69 C377.69,153.85 376.87,155.94 376.59,159.87 C376.31,163.80 376.67,169.09 376.79,173.24 C376.91,177.40 376.92,180.43 377.29,184.82 C377.66,189.21 378.43,194.70 378.99,199.59 C379.55,204.48 380.14,208.34 380.64,214.16 C381.14,219.98 381.76,231.13 381.99,234.52 Z" fill="#62a0ca" stroke="#2c3844" stroke-width="0.7"/>
<line x1="379.44" y1="246.10" x2="385.34" y2="246.10" stroke="#0a0a0a" stroke-width="1.15"/>
<line x1="379.44" y1="173.24" x2="385.34" y2="173.24" stroke="#0a0a0a" stroke-width="1.15"/>
<line x1="379.44" y1="132.33" x2="385.34" y2="132.33" stroke="#0a0a0a" stroke-width="1.15"/>
<line x1="401.38" y1="114.16" x2="401.38" y2="257.47" stroke="#7c7c7c" stroke-width="1.0"/>
<linearGradient id="g1_7" gradientUnits="userSpaceOnUse" x1="0" y1="114.16" x2="0" y2="257.47"><stop offset="0.0000" stop-color="#1c2630" stop-opacity="0.87"/><stop offset="0.0000" stop-color="#1c2630" stop-opacity="0.55"/><stop offset="0.0070" stop-color="#1c2630" stop-opacity="0.90"/><stop offset="0.9178" stop-color="#1c2630" stop-opacity="0.90"/><stop offset="0.9666" stop-color="#1c2630" stop-opacity="0.55"/><stop offset="1.0000" stop-color="#1c2630" stop-opacity="0.24"/></linearGradient>
<line x1="401.38" y1="114.16" x2="401.38" y2="257.47" stroke="url(#g1_7)" stroke-width="1.3"/>
<path d="M401.78,234.52 C401.88,231.13 402.13,219.98 402.38,214.16 C402.63,208.34 402.96,204.48 403.28,199.59 C403.60,194.70 403.75,190.71 404.28,184.82 C404.81,178.93 406.00,171.11 406.48,164.26 C406.96,157.41 407.23,148.66 407.18,143.70 C407.13,138.75 406.71,137.65 406.18,134.52 C405.65,131.39 404.53,127.37 403.98,124.94 C403.43,122.51 403.26,121.58 402.88,119.95 C402.50,118.32 401.88,115.96 401.68,115.16 L401.08,115.16 C400.88,115.96 400.26,118.32 399.88,119.95 C399.50,121.58 399.33,122.51 398.78,124.94 C398.23,127.37 397.11,131.39 396.58,134.52 C396.05,137.65 395.63,138.75 395.58,143.70 C395.53,148.66 395.80,157.41 396.28,164.26 C396.76,171.11 397.95,178.93 398.48,184.82 C399.01,190.71 399.16,194.70 399.48,199.59 C399.80,204.48 400.13,208.34 400.38,214.16 C400.63,219.98 400.88,231.13 400.98,234.52 Z" fill="#62a0ca" stroke="#2c3844" stroke-width="0.7"/>
<line x1="398.43" y1="245.70" x2="404.33" y2="245.70" stroke="#0a0a0a" stroke-width="1.15"/>
<line x1="398.43" y1="158.07" x2="404.33" y2="158.07" stroke="#0a0a0a" stroke-width="1.15"/>
<line x1="398.43" y1="124.94" x2="404.33" y2="124.94" stroke="#0a0a0a" stroke-width="1.15"/>
<line x1="420.37" y1="115.96" x2="420.37" y2="248.89" stroke="#7c7c7c" stroke-width="1.0"/>
<linearGradient id="g1_8" gradientUnits="userSpaceOnUse" x1="0" y1="115.96" x2="0" y2="248.89"><stop offset="0.0000" stop-color="#1c2630" stop-opacity="0.90"/><stop offset="0.0000" stop-color="#1c2630" stop-opacity="0.55"/><stop offset="0.0000" stop-color="#1c2630" stop-opacity="0.90"/><stop offset="0.9174" stop-color="#1c2630" stop-opacity="0.90"/><stop offset="0.9700" stop-color="#1c2630" stop-opacity="0.55"/><stop offset="1.0000" stop-color="#1c2630" stop-opacity="0.28"/></linearGradient>
<line x1="420.37" y1="115.96" x2="420.37" y2="248.89" stroke="url(#g1_8)" stroke-width="1.3"/>
<path d="M420.67,234.52 C420.74,231.13 420.92,219.98 421.07,214.16 C421.22,208.34 421.42,204.55 421.57,199.59 C421.72,194.63 421.57,190.31 421.97,184.42 C422.37,178.53 423.34,169.78 423.97,164.26 C424.60,158.74 425.40,155.31 425.77,151.29 C426.14,147.26 426.22,142.90 426.17,140.11 C426.12,137.32 425.95,136.92 425.47,134.52 C424.99,132.13 423.87,128.27 423.27,125.74 C422.67,123.21 422.12,120.98 421.87,119.35 C421.62,117.72 421.79,116.52 421.77,115.96 L418.97,115.96 C418.95,116.52 419.12,117.72 418.87,119.35 C418.62,120.98 418.07,123.21 417.47,125.74 C416.87,128.27 415.75,132.13 415.27,134.52 C414.79,136.92 414.62,137.32 414.57,140.11 C414.52,142.90 414.60,147.26 414.97,151.29 C415.34,155.31 416.14,158.74 416.77,164.26 C417.40,169.78 418.37,178.53 418.77,184.42 C419.17,190.31 419.02,194.63 419.17,199.59 C419.32,204.55 419.52,208.34 419.67,214.16 C419.82,219.98 420.00,231.13 420.07,234.52 Z" fill="#62a0ca" stroke="#2c3844" stroke-width="0.7"/>
<line x1="417.42" y1="237.91" x2="423.32" y2="237.91" stroke="#0a0a0a" stroke-width="1.15"/>
<line x1="417.42" y1="151.29" x2="423.32" y2="151.29" stroke="#0a0a0a" stroke-width="1.15"/>
<line x1="417.42" y1="119.35" x2="423.32" y2="119.35" stroke="#0a0a0a" stroke-width="1.15"/>
<line x1="439.36" y1="119.95" x2="439.36" y2="235.52" stroke="#7c7c7c" stroke-width="1.0"/>
<linearGradient id="g1_9" gradientUnits="userSpaceOnUse" x1="0" y1="119.95" x2="0" y2="235.52"><stop offset="0.0000" stop-color="#1c2630" stop-opacity="0.90"/><stop offset="0.0000" stop-color="#1c2630" stop-opacity="0.55"/><stop offset="0.0000" stop-color="#1c2630" stop-opacity="0.90"/><stop offset="0.9033" stop-color="#1c2630" stop-opacity="0.90"/><stop offset="0.9637" stop-color="#1c2630" stop-opacity="0.55"/><stop offset="1.0000" stop-color="#1c2630" stop-opacity="0.27"/></linearGradient>
<line x1="439.36" y1="119.95" x2="439.36" y2="235.52" stroke="url(#g1_9)" stroke-width="1.3"/>
<path d="M439.76,208.17 C439.89,206.74 440.31,203.48 440.56,199.59 C440.81,195.70 440.86,190.71 441.26,184.82 C441.66,178.93 442.36,169.62 442.96,164.26 C443.56,158.91 444.49,156.71 444.86,152.68 C445.23,148.66 445.18,143.07 445.16,140.11 C445.14,137.15 445.13,137.08 444.76,134.92 C444.39,132.76 443.43,129.13 442.96,127.14 C442.49,125.14 442.19,124.14 441.96,122.94 C441.73,121.75 441.63,120.45 441.56,119.95 L437.16,119.95 C437.09,120.45 436.99,121.75 436.76,122.94 C436.53,124.14 436.23,125.14 435.76,127.14 C435.29,129.13 434.33,132.76 433.96,134.92 C433.59,137.08 433.58,137.15 433.56,140.11 C433.54,143.07 433.49,148.66 433.86,152.68 C434.23,156.71 435.16,158.91 435.76,164.26 C436.36,169.62 437.06,178.93 437.46,184.82 C437.86,190.71 437.91,195.70 438.16,199.59 C438.41,203.48 438.83,206.74 438.96,208.17 Z" fill="#62a0ca" stroke="#2c3844" stroke-width="0.7"/>
<line x1="436.41" y1="224.34" x2="442.31" y2="224.34" stroke="#0a0a0a" stroke-width="1.15"/>
<line x1="436.41" y1="152.68" x2="442.31" y2="152.68" stroke="#0a0a0a" stroke-width="1.15"/>
<line x1="436.41" y1="122.94" x2="442.31" y2="122.94" stroke="#0a0a0a" stroke-width="1.15"/>
<rect x="493.80" y="30.00" width="11.2" height="43.90" fill="#6bb36b"/>
<rect x="512.76" y="27.25" width="11.2" height="46.65" fill="#6bb36b"/>
<rect x="531.72" y="33.75" width="11.2" height="40.15" fill="#6bb36b"/>
<rect x="550.68" y="44.50" width="11.2" height="29.40" fill="#6bb36b"/>
<rect x="569.64" y="52.00" width="11.2" height="21.90" fill="#6bb36b"/>
<rect x="588.60" y="56.75" width="11.2" height="17.15" fill="#6bb36b"/>
<rect x="607.56" y="59.40" width="11.2" height="14.50" fill="#6bb36b"/>
<rect x="626.52" y="59.30" width="11.2" height="14.60" fill="#6bb36b"/>
<rect x="645.48" y="60.70" width="11.2" height="13.20" fill="#6bb36b"/>
<rect x="664.44" y="60.00" width="11.2" height="13.90" fill="#6bb36b"/>
<rect x="484.50" y="19.00" width="199.80" height="54.90" fill="none" stroke="#3a3a3a" stroke-width="0.8"/>
<line x1="499.40" y1="73.90" x2="499.40" y2="76.10" stroke="#3a3a3a" stroke-width="0.8"/>
<line x1="518.36" y1="73.90" x2="518.36" y2="76.10" stroke="#3a3a3a" stroke-width="0.8"/>
<line x1="537.32" y1="73.90" x2="537.32" y2="76.10" stroke="#3a3a3a" stroke-width="0.8"/>
<line x1="556.28" y1="73.90" x2="556.28" y2="76.10" stroke="#3a3a3a" stroke-width="0.8"/>
<line x1="575.24" y1="73.90" x2="575.24" y2="76.10" stroke="#3a3a3a" stroke-width="0.8"/>
<line x1="594.20" y1="73.90" x2="594.20" y2="76.10" stroke="#3a3a3a" stroke-width="0.8"/>
<line x1="613.16" y1="73.90" x2="613.16" y2="76.10" stroke="#3a3a3a" stroke-width="0.8"/>
<line x1="632.12" y1="73.90" x2="632.12" y2="76.10" stroke="#3a3a3a" stroke-width="0.8"/>
<line x1="651.08" y1="73.90" x2="651.08" y2="76.10" stroke="#3a3a3a" stroke-width="0.8"/>
<line x1="670.04" y1="73.90" x2="670.04" y2="76.10" stroke="#3a3a3a" stroke-width="0.8"/>
<line x1="482.00" y1="22.50" x2="484.50" y2="22.50" stroke="#3a3a3a" stroke-width="0.8"/>
<line x1="482.00" y1="48.20" x2="484.50" y2="48.20" stroke="#3a3a3a" stroke-width="0.8"/>
<line x1="482.00" y1="73.50" x2="484.50" y2="73.50" stroke="#3a3a3a" stroke-width="0.8"/>
<rect x="484.50" y="85.00" width="199.80" height="220.00" fill="none" stroke="#3a3a3a" stroke-width="0.8"/>
<line x1="482.00" y1="294.80" x2="484.50" y2="294.80" stroke="#3a3a3a" stroke-width="0.8"/>
<line x1="482.00" y1="254.88" x2="484.50" y2="254.88" stroke="#3a3a3a" stroke-width="0.8"/>
<line x1="482.00" y1="214.96" x2="484.50" y2="214.96" stroke="#3a3a3a" stroke-width="0.8"/>
<line x1="482.00" y1="175.04" x2="484.50" y2="175.04" stroke="#3a3a3a" stroke-width="0.8"/>
<line x1="482.00" y1="135.12" x2="484.50" y2="135.12" stroke="#3a3a3a" stroke-width="0.8"/>
<line x1="482.00" y1="95.20" x2="484.50" y2="95.20" stroke="#3a3a3a" stroke-width="0.8"/>
<line x1="499.40" y1="305.00" x2="499.40" y2="307.20" stroke="#3a3a3a" stroke-width="0.8"/>
<line x1="518.36" y1="305.00" x2="518.36" y2="307.20" stroke="#3a3a3a" stroke-width="0.8"/>
<line x1="537.32" y1="305.00" x2="537.32" y2="307.20" stroke="#3a3a3a" stroke-width="0.8"/>
<line x1="556.28" y1="305.00" x2="556.28" y2="307.20" stroke="#3a3a3a" stroke-width="0.8"/>
<line x1="575.24" y1="305.00" x2="575.24" y2="307.20" stroke="#3a3a3a" stroke-width="0.8"/>
<line x1="594.20" y1="305.00" x2="594.20" y2="307.20" stroke="#3a3a3a" stroke-width="0.8"/>
<line x1="613.16" y1="305.00" x2="613.16" y2="307.20" stroke="#3a3a3a" stroke-width="0.8"/>
<line x1="632.12" y1="305.00" x2="632.12" y2="307.20" stroke="#3a3a3a" stroke-width="0.8"/>
<line x1="651.08" y1="305.00" x2="651.08" y2="307.20" stroke="#3a3a3a" stroke-width="0.8"/>
<line x1="670.04" y1="305.00" x2="670.04" y2="307.20" stroke="#3a3a3a" stroke-width="0.8"/>
<line x1="499.40" y1="116.56" x2="499.40" y2="294.80" stroke="#7c7c7c" stroke-width="1.0"/>
<linearGradient id="g2_0" gradientUnits="userSpaceOnUse" x1="0" y1="151.29" x2="0" y2="294.80"><stop offset="0.0000" stop-color="#1c2630" stop-opacity="0.00"/><stop offset="0.1252" stop-color="#1c2630" stop-opacity="0.55"/><stop offset="0.2086" stop-color="#1c2630" stop-opacity="0.90"/><stop offset="1.0000" stop-color="#1c2630" stop-opacity="0.90"/><stop offset="1.0000" stop-color="#1c2630" stop-opacity="0.55"/><stop offset="1.0000" stop-color="#1c2630" stop-opacity="0.90"/></linearGradient>
<line x1="499.40" y1="151.29" x2="499.40" y2="294.80" stroke="url(#g2_0)" stroke-width="1.3"/>
<path d="M501.70,294.80 C501.70,293.84 501.48,291.14 501.70,289.01 C501.92,286.88 502.40,285.42 503.00,282.03 C503.60,278.63 505.00,272.31 505.30,268.65 C505.60,264.99 505.05,263.26 504.80,260.07 C504.55,256.88 504.22,253.75 503.80,249.49 C503.38,245.23 502.72,240.41 502.30,234.52 C501.88,228.63 501.58,219.98 501.30,214.16 C501.02,208.34 500.85,204.48 500.60,199.59 C500.35,194.70 499.93,187.28 499.80,184.82 L499.00,184.82 C498.87,187.28 498.45,194.70 498.20,199.59 C497.95,204.48 497.78,208.34 497.50,214.16 C497.22,219.98 496.92,228.63 496.50,234.52 C496.08,240.41 495.42,245.23 495.00,249.49 C494.58,253.75 494.25,256.88 494.00,260.07 C493.75,263.26 493.20,264.99 493.50,268.65 C493.80,272.31 495.20,278.63 495.80,282.03 C496.40,285.42 496.88,286.88 497.10,289.01 C497.32,291.14 497.10,293.84 497.10,294.80 Z" fill="#62a0ca" stroke="#2c3844" stroke-width="0.7"/>
<line x1="496.45" y1="294.80" x2="502.35" y2="294.80" stroke="#0a0a0a" stroke-width="1.15"/>
<line x1="496.45" y1="258.67" x2="502.35" y2="258.67" stroke="#0a0a0a" stroke-width="1.15"/>
<line x1="496.45" y1="181.23" x2="502.35" y2="181.23" stroke="#0a0a0a" stroke-width="1.15"/>
<line x1="518.36" y1="98.99" x2="518.36" y2="294.80" stroke="#7c7c7c" stroke-width="1.0"/>
<linearGradient id="g2_1" gradientUnits="userSpaceOnUse" x1="0" y1="143.30" x2="0" y2="294.80"><stop offset="0.0000" stop-color="#1c2630" stop-opacity="0.00"/><stop offset="0.1186" stop-color="#1c2630" stop-opacity="0.55"/><stop offset="0.1976" stop-color="#1c2630" stop-opacity="0.90"/><stop offset="1.0000" stop-color="#1c2630" stop-opacity="0.90"/><stop offset="1.0000" stop-color="#1c2630" stop-opacity="0.55"/><stop offset="1.0000" stop-color="#1c2630" stop-opacity="0.90"/></linearGradient>
<line x1="518.36" y1="143.30" x2="518.36" y2="294.80" stroke="url(#g2_1)" stroke-width="1.3"/>
<path d="M518.76,294.80 C518.93,293.50 519.36,290.38 519.76,287.02 C520.16,283.66 520.73,278.47 521.16,274.64 C521.59,270.81 521.91,268.25 522.36,264.06 C522.81,259.87 523.56,254.35 523.86,249.49 C524.16,244.63 524.31,240.81 524.16,234.92 C524.01,229.03 523.46,220.05 522.96,214.16 C522.46,208.27 521.73,204.55 521.16,199.59 C520.59,194.63 519.94,188.81 519.56,184.42 C519.18,180.03 518.98,175.11 518.86,173.24 L517.86,173.24 C517.74,175.11 517.54,180.03 517.16,184.42 C516.78,188.81 516.13,194.63 515.56,199.59 C514.99,204.55 514.26,208.27 513.76,214.16 C513.26,220.05 512.71,229.03 512.56,234.92 C512.41,240.81 512.56,244.63 512.86,249.49 C513.16,254.35 513.91,259.87 514.36,264.06 C514.81,268.25 515.13,270.81 515.56,274.64 C515.99,278.47 516.56,283.66 516.96,287.02 C517.36,290.38 517.79,293.50 517.96,294.80 Z" fill="#62a0ca" stroke="#2c3844" stroke-width="0.7"/>
<line x1="515.41" y1="287.02" x2="521.31" y2="287.02" stroke="#0a0a0a" stroke-width="1.15"/>
<line x1="515.41" y1="235.32" x2="521.31" y2="235.32" stroke="#0a0a0a" stroke-width="1.15"/>
<line x1="515.41" y1="173.24" x2="521.31" y2="173.24" stroke="#0a0a0a" stroke-width="1.15"/>
<line x1="537.32" y1="98.79" x2="537.32" y2="294.80" stroke="#7c7c7c" stroke-width="1.0"/>
<linearGradient id="g2_2" gradientUnits="userSpaceOnUse" x1="0" y1="137.12" x2="0" y2="292.40"><stop offset="0.0000" stop-color="#1c2630" stop-opacity="0.00"/><stop offset="0.1157" stop-color="#1c2630" stop-opacity="0.55"/><stop offset="0.1928" stop-color="#1c2630" stop-opacity="0.90"/><stop offset="0.8972" stop-color="#1c2630" stop-opacity="0.90"/><stop offset="0.9422" stop-color="#1c2630" stop-opacity="0.55"/><stop offset="1.0000" stop-color="#1c2630" stop-opacity="0.00"/></linearGradient>
<line x1="537.32" y1="137.12" x2="537.32" y2="292.40" stroke="url(#g2_2)" stroke-width="1.3"/>
<path d="M537.92,276.44 C538.12,274.37 538.65,268.55 539.12,264.06 C539.59,259.57 540.17,254.41 540.72,249.49 C541.27,244.57 542.07,239.21 542.42,234.52 C542.77,229.83 542.79,224.74 542.82,221.35 C542.85,217.95 542.84,217.79 542.62,214.16 C542.40,210.54 542.04,204.55 541.52,199.59 C541.00,194.63 540.14,189.84 539.52,184.42 C538.90,179.00 538.10,169.95 537.82,167.06 L536.82,167.06 C536.54,169.95 535.74,179.00 535.12,184.42 C534.50,189.84 533.64,194.63 533.12,199.59 C532.60,204.55 532.24,210.54 532.02,214.16 C531.80,217.79 531.79,217.95 531.82,221.35 C531.85,224.74 531.87,229.83 532.22,234.52 C532.57,239.21 533.37,244.57 533.92,249.49 C534.47,254.41 535.05,259.57 535.52,264.06 C535.99,268.55 536.52,274.37 536.72,276.44 Z" fill="#62a0ca" stroke="#2c3844" stroke-width="0.7"/>
<line x1="534.37" y1="276.44" x2="540.27" y2="276.44" stroke="#0a0a0a" stroke-width="1.15"/>
<line x1="534.37" y1="221.35" x2="540.27" y2="221.35" stroke="#0a0a0a" stroke-width="1.15"/>
<line x1="534.37" y1="167.06" x2="540.27" y2="167.06" stroke="#0a0a0a" stroke-width="1.15"/>
<line x1="556.28" y1="115.16" x2="556.28" y2="294.80" stroke="#7c7c7c" stroke-width="1.0"/>
<linearGradient id="g2_3" gradientUnits="userSpaceOnUse" x1="0" y1="126.34" x2="0" y2="283.22"><stop offset="0.0000" stop-color="#1c2630" stop-opacity="0.00"/><stop offset="0.1145" stop-color="#1c2630" stop-opacity="0.55"/><stop offset="0.1908" stop-color="#1c2630" stop-opacity="0.90"/><stop offset="0.8982" stop-color="#1c2630" stop-opacity="0.90"/><stop offset="0.9427" stop-color="#1c2630" stop-opacity="0.55"/><stop offset="1.0000" stop-color="#1c2630" stop-opacity="0.00"/></linearGradient>
<line x1="556.28" y1="126.34" x2="556.28" y2="283.22" stroke="url(#g2_3)" stroke-width="1.3"/>
<path d="M556.78,267.26 C557.03,264.29 557.76,254.95 558.28,249.49 C558.80,244.04 559.31,240.41 559.88,234.52 C560.45,228.63 561.35,219.09 561.68,214.16 C562.01,209.24 562.13,209.87 561.88,204.98 C561.63,200.09 560.70,190.41 560.18,184.82 C559.66,179.23 559.33,176.20 558.78,171.45 C558.23,166.69 557.20,158.81 556.88,156.28 L555.68,156.28 C555.36,158.81 554.33,166.69 553.78,171.45 C553.23,176.20 552.90,179.23 552.38,184.82 C551.86,190.41 550.93,200.09 550.68,204.98 C550.43,209.87 550.55,209.24 550.88,214.16 C551.21,219.09 552.11,228.63 552.68,234.52 C553.25,240.41 553.76,244.04 554.28,249.49 C554.80,254.95 555.53,264.29 555.78,267.26 Z" fill="#62a0ca" stroke="#2c3844" stroke-width="0.7"/>
<line x1="553.33" y1="267.26" x2="559.23" y2="267.26" stroke="#0a0a0a" stroke-width="1.15"/>
<line x1="553.33" y1="209.17" x2="559.23" y2="209.17" stroke="#0a0a0a" stroke-width="1.15"/>
<line x1="553.33" y1="156.28" x2="559.23" y2="156.28" stroke="#0a0a0a" stroke-width="1.15"/>
<line x1="575.24" y1="119.55" x2="575.24" y2="284.02" stroke="#7c7c7c" stroke-width="1.0"/>
<linearGradient id="g2_4" gradientUnits="userSpaceOnUse" x1="0" y1="119.55" x2="0" y2="278.43"><stop offset="0.0000" stop-color="#1c2630" stop-opacity="0.10"/><stop offset="0.0930" stop-color="#1c2630" stop-opacity="0.55"/><stop offset="0.1683" stop-color="#1c2630" stop-opacity="0.90"/><stop offset="0.8995" stop-color="#1c2630" stop-opacity="0.90"/><stop offset="0.9435" stop-color="#1c2630" stop-opacity="0.55"/><stop offset="1.0000" stop-color="#1c2630" stop-opacity="0.00"/></linearGradient>
<line x1="575.24" y1="119.55" x2="575.24" y2="278.43" stroke="url(#g2_4)" stroke-width="1.3"/>
<path d="M575.74,262.46 C575.82,260.30 575.96,254.15 576.24,249.49 C576.52,244.83 576.91,240.41 577.44,234.52 C577.97,228.63 578.84,219.98 579.44,214.16 C580.04,208.34 580.76,203.45 581.04,199.59 C581.32,195.73 581.24,193.54 581.14,191.01 C581.04,188.48 580.96,188.88 580.44,184.42 C579.92,179.96 578.81,170.62 578.04,164.26 C577.27,157.91 576.21,149.29 575.84,146.30 L574.64,146.30 C574.27,149.29 573.21,157.91 572.44,164.26 C571.67,170.62 570.56,179.96 570.04,184.42 C569.52,188.88 569.44,188.48 569.34,191.01 C569.24,193.54 569.16,195.73 569.44,199.59 C569.72,203.45 570.44,208.34 571.04,214.16 C571.64,219.98 572.51,228.63 573.04,234.52 C573.57,240.41 573.96,244.83 574.24,249.49 C574.52,254.15 574.66,260.30 574.74,262.46 Z" fill="#62a0ca" stroke="#2c3844" stroke-width="0.7"/>
<line x1="572.29" y1="262.46" x2="578.19" y2="262.46" stroke="#0a0a0a" stroke-width="1.15"/>
<line x1="572.29" y1="199.59" x2="578.19" y2="199.59" stroke="#0a0a0a" stroke-width="1.15"/>
<line x1="572.29" y1="146.30" x2="578.19" y2="146.30" stroke="#0a0a0a" stroke-width="1.15"/>
<line x1="594.20" y1="114.56" x2="594.20" y2="274.44" stroke="#7c7c7c" stroke-width="1.0"/>
<linearGradient id="g2_5" gradientUnits="userSpaceOnUse" x1="0" y1="114.56" x2="0" y2="274.04"><stop offset="0.0000" stop-color="#1c2630" stop-opacity="0.40"/><stop offset="0.0300" stop-color="#1c2630" stop-opacity="0.55"/><stop offset="0.1051" stop-color="#1c2630" stop-opacity="0.90"/><stop offset="0.8999" stop-color="#1c2630" stop-opacity="0.90"/><stop offset="0.9437" stop-color="#1c2630" stop-opacity="0.55"/><stop offset="1.0000" stop-color="#1c2630" stop-opacity="0.00"/></linearGradient>
<line x1="594.20" y1="114.56" x2="594.20" y2="274.04" stroke="url(#g2_5)" stroke-width="1.3"/>
<path d="M594.80,234.52 C594.98,231.13 595.42,219.98 595.90,214.16 C596.38,208.34 597.08,204.48 597.70,199.59 C598.32,194.70 599.22,188.05 599.60,184.82 C599.98,181.59 600.08,183.66 600.00,180.23 C599.92,176.80 599.62,169.35 599.10,164.26 C598.58,159.17 597.60,154.58 596.90,149.69 C596.20,144.80 595.27,137.98 594.90,134.92 C594.53,131.86 594.73,131.93 594.70,131.33 L593.70,131.33 C593.67,131.93 593.87,131.86 593.50,134.92 C593.13,137.98 592.20,144.80 591.50,149.69 C590.80,154.58 589.82,159.17 589.30,164.26 C588.78,169.35 588.48,176.80 588.40,180.23 C588.32,183.66 588.42,181.59 588.80,184.82 C589.18,188.05 590.08,194.70 590.70,199.59 C591.32,204.48 592.02,208.34 592.50,214.16 C592.98,219.98 593.42,231.13 593.60,234.52 Z" fill="#62a0ca" stroke="#2c3844" stroke-width="0.7"/>
<line x1="591.25" y1="258.07" x2="597.15" y2="258.07" stroke="#0a0a0a" stroke-width="1.15"/>
<line x1="591.25" y1="180.23" x2="597.15" y2="180.23" stroke="#0a0a0a" stroke-width="1.15"/>
<line x1="591.25" y1="131.33" x2="597.15" y2="131.33" stroke="#0a0a0a" stroke-width="1.15"/>
<line x1="613.16" y1="115.56" x2="613.16" y2="263.46" stroke="#7c7c7c" stroke-width="1.0"/>
<linearGradient id="g2_6" gradientUnits="userSpaceOnUse" x1="0" y1="115.56" x2="0" y2="263.46"><stop offset="0.0000" stop-color="#1c2630" stop-opacity="0.76"/><stop offset="0.0000" stop-color="#1c2630" stop-opacity="0.55"/><stop offset="0.0310" stop-color="#1c2630" stop-opacity="0.90"/><stop offset="0.9069" stop-color="#1c2630" stop-opacity="0.90"/><stop offset="0.9541" stop-color="#1c2630" stop-opacity="0.55"/><stop offset="1.0000" stop-color="#1c2630" stop-opacity="0.12"/></linearGradient>
<line x1="613.16" y1="115.56" x2="613.16" y2="263.46" stroke="url(#g2_6)" stroke-width="1.3"/>
<path d="M613.46,234.52 C613.51,231.13 613.56,219.98 613.76,214.16 C613.96,208.34 614.16,204.48 614.66,199.59 C615.16,194.70 616.26,188.91 616.76,184.82 C617.26,180.73 617.31,178.60 617.66,175.04 C618.01,171.48 618.64,166.79 618.86,163.46 C619.08,160.14 619.03,158.14 618.96,155.08 C618.89,152.02 618.61,147.76 618.46,145.10 C618.31,142.44 618.36,141.44 618.06,139.11 C617.76,136.78 617.11,133.56 616.66,131.13 C616.21,128.70 615.79,126.37 615.36,124.54 C614.93,122.71 614.28,120.88 614.06,120.15 L612.26,120.15 C612.04,120.88 611.39,122.71 610.96,124.54 C610.53,126.37 610.11,128.70 609.66,131.13 C609.21,133.56 608.56,136.78 608.26,139.11 C607.96,141.44 608.01,142.44 607.86,145.10 C607.71,147.76 607.43,152.02 607.36,155.08 C607.29,158.14 607.24,160.14 607.46,163.46 C607.68,166.79 608.31,171.48 608.66,175.04 C609.01,178.60 609.06,180.73 609.56,184.82 C610.06,188.91 611.16,194.70 611.66,199.59 C612.16,204.48 612.36,208.34 612.56,214.16 C612.76,219.98 612.81,231.13 612.86,234.52 Z" fill="#62a0ca" stroke="#2c3844" stroke-width="0.7"/>
<line x1="610.21" y1="249.69" x2="616.11" y2="249.69" stroke="#0a0a0a" stroke-width="1.15"/>
<line x1="610.21" y1="163.46" x2="616.11" y2="163.46" stroke="#0a0a0a" stroke-width="1.15"/>
<line x1="610.21" y1="120.15" x2="616.11" y2="120.15" stroke="#0a0a0a" stroke-width="1.15"/>
<line x1="632.12" y1="114.76" x2="632.12" y2="231.73" stroke="#7c7c7c" stroke-width="1.0"/>
<linearGradient id="g2_7" gradientUnits="userSpaceOnUse" x1="0" y1="114.76" x2="0" y2="231.73"><stop offset="0.0000" stop-color="#1c2630" stop-opacity="0.82"/><stop offset="0.0000" stop-color="#1c2630" stop-opacity="0.55"/><stop offset="0.0222" stop-color="#1c2630" stop-opacity="0.90"/><stop offset="0.8942" stop-color="#1c2630" stop-opacity="0.90"/><stop offset="0.9539" stop-color="#1c2630" stop-opacity="0.55"/><stop offset="1.0000" stop-color="#1c2630" stop-opacity="0.20"/></linearGradient>
<line x1="632.12" y1="114.76" x2="632.12" y2="231.73" stroke="url(#g2_7)" stroke-width="1.3"/>
<path d="M632.42,219.35 C632.45,215.96 632.57,204.81 632.62,198.99 C632.67,193.17 632.62,187.78 632.72,184.42 C632.82,181.06 632.89,182.19 633.22,178.83 C633.55,175.47 634.12,169.12 634.72,164.26 C635.32,159.40 636.32,154.55 636.82,149.69 C637.32,144.83 638.09,139.58 637.72,135.12 C637.35,130.66 635.39,125.91 634.62,122.94 C633.85,119.98 633.37,118.29 633.12,117.36 L631.12,117.36 C630.87,118.29 630.39,119.98 629.62,122.94 C628.85,125.91 626.89,130.66 626.52,135.12 C626.15,139.58 626.92,144.83 627.42,149.69 C627.92,154.55 628.92,159.40 629.52,164.26 C630.12,169.12 630.69,175.47 631.02,178.83 C631.35,182.19 631.42,181.06 631.52,184.42 C631.62,187.78 631.57,193.17 631.62,198.99 C631.67,204.81 631.79,215.96 631.82,219.35 Z" fill="#62a0ca" stroke="#2c3844" stroke-width="0.7"/>
<line x1="629.17" y1="219.35" x2="635.07" y2="219.35" stroke="#0a0a0a" stroke-width="1.15"/>
<line x1="629.17" y1="145.50" x2="635.07" y2="145.50" stroke="#0a0a0a" stroke-width="1.15"/>
<line x1="629.17" y1="117.36" x2="635.07" y2="117.36" stroke="#0a0a0a" stroke-width="1.15"/>
<line x1="651.08" y1="99.79" x2="651.08" y2="220.75" stroke="#7c7c7c" stroke-width="1.0"/>
<linearGradient id="g2_8" gradientUnits="userSpaceOnUse" x1="0" y1="99.79" x2="0" y2="220.75"><stop offset="0.0000" stop-color="#1c2630" stop-opacity="0.80"/><stop offset="0.0000" stop-color="#1c2630" stop-opacity="0.55"/><stop offset="0.0281" stop-color="#1c2630" stop-opacity="0.90"/><stop offset="0.9488" stop-color="#1c2630" stop-opacity="0.90"/><stop offset="1.0000" stop-color="#1c2630" stop-opacity="0.55"/><stop offset="1.0000" stop-color="#1c2630" stop-opacity="0.55"/></linearGradient>
<line x1="651.08" y1="99.79" x2="651.08" y2="220.75" stroke="url(#g2_8)" stroke-width="1.3"/>
<path d="M651.38,204.98 C651.43,201.55 651.48,191.21 651.68,184.42 C651.88,177.63 652.20,170.05 652.58,164.26 C652.96,158.47 653.45,154.58 653.98,149.69 C654.51,144.80 655.30,139.15 655.78,134.92 C656.26,130.70 657.01,127.80 656.88,124.34 C656.75,120.88 655.75,117.16 654.98,114.16 C654.21,111.17 652.85,108.21 652.28,106.38 C651.71,104.55 651.70,103.72 651.58,103.18 L650.58,103.18 C650.46,103.72 650.45,104.55 649.88,106.38 C649.31,108.21 647.95,111.17 647.18,114.16 C646.41,117.16 645.41,120.88 645.28,124.34 C645.15,127.80 645.90,130.70 646.38,134.92 C646.86,139.15 647.65,144.80 648.18,149.69 C648.71,154.58 649.20,158.47 649.58,164.26 C649.96,170.05 650.28,177.63 650.48,184.42 C650.68,191.21 650.73,201.55 650.78,204.98 Z" fill="#62a0ca" stroke="#2c3844" stroke-width="0.7"/>
<line x1="648.13" y1="214.56" x2="654.03" y2="214.56" stroke="#0a0a0a" stroke-width="1.15"/>
<line x1="648.13" y1="134.12" x2="654.03" y2="134.12" stroke="#0a0a0a" stroke-width="1.15"/>
<line x1="648.13" y1="106.38" x2="654.03" y2="106.38" stroke="#0a0a0a" stroke-width="1.15"/>
<line x1="670.04" y1="95.20" x2="670.04" y2="253.88" stroke="#7c7c7c" stroke-width="1.0"/>
<linearGradient id="g2_9" gradientUnits="userSpaceOnUse" x1="0" y1="95.20" x2="0" y2="226.34"><stop offset="0.0000" stop-color="#1c2630" stop-opacity="0.90"/><stop offset="0.0000" stop-color="#1c2630" stop-opacity="0.55"/><stop offset="0.0000" stop-color="#1c2630" stop-opacity="0.90"/><stop offset="0.8782" stop-color="#1c2630" stop-opacity="0.90"/><stop offset="0.9315" stop-color="#1c2630" stop-opacity="0.55"/><stop offset="1.0000" stop-color="#1c2630" stop-opacity="0.00"/></linearGradient>
<line x1="670.04" y1="95.20" x2="670.04" y2="226.34" stroke="url(#g2_9)" stroke-width="1.3"/>
<path d="M670.34,204.98 C670.36,201.55 670.37,188.81 670.44,184.42 C670.51,180.03 670.47,181.99 670.74,178.63 C671.01,175.27 671.49,169.09 672.04,164.26 C672.59,159.44 673.46,154.58 674.04,149.69 C674.62,144.80 675.36,139.64 675.54,134.92 C675.72,130.20 675.46,126.00 675.14,121.35 C674.82,116.69 674.07,111.00 673.64,106.98 C673.21,102.95 672.72,99.16 672.54,97.20 C672.36,95.23 672.54,95.53 672.54,95.20 L667.54,95.20 C667.54,95.53 667.72,95.23 667.54,97.20 C667.36,99.16 666.87,102.95 666.44,106.98 C666.01,111.00 665.26,116.69 664.94,121.35 C664.62,126.00 664.36,130.20 664.54,134.92 C664.72,139.64 665.46,144.80 666.04,149.69 C666.62,154.58 667.49,159.44 668.04,164.26 C668.59,169.09 669.07,175.27 669.34,178.63 C669.61,181.99 669.57,180.03 669.64,184.42 C669.71,188.81 669.72,201.55 669.74,204.98 Z" fill="#62a0ca" stroke="#2c3844" stroke-width="0.7"/>
<line x1="667.09" y1="210.37" x2="672.99" y2="210.37" stroke="#0a0a0a" stroke-width="1.15"/>
<line x1="667.09" y1="133.12" x2="672.99" y2="133.12" stroke="#0a0a0a" stroke-width="1.15"/>
<line x1="667.09" y1="95.20" x2="672.99" y2="95.20" stroke="#0a0a0a" stroke-width="1.15"/>
<g filter="url(#gs)"><text x="0.70" y="9.1" font-size="12" textLength="9.1" lengthAdjust="spacingAndGlyphs">a)</text><text x="88.90" y="15.7" font-size="8.8" style="stroke-width:0.05px" textLength="69.10" lengthAdjust="spacingAndGlyphs">positive vs positive</text><text x="8.80" y="25.05" font-size="6.9" textLength="6.3" lengthAdjust="spacingAndGlyphs">10</text><text x="16.10" y="22.40" font-size="4.3" textLength="2.5" lengthAdjust="spacingAndGlyphs">6</text><text x="8.80" y="50.75" font-size="6.9" textLength="6.3" lengthAdjust="spacingAndGlyphs">10</text><text x="16.10" y="48.10" font-size="4.3" textLength="2.5" lengthAdjust="spacingAndGlyphs">4</text><text x="8.80" y="76.05" font-size="6.9" textLength="6.3" lengthAdjust="spacingAndGlyphs">10</text><text x="16.10" y="73.40" font-size="4.3" textLength="2.5" lengthAdjust="spacingAndGlyphs">2</text><text transform="translate(5.90,46.4) rotate(-90)" text-anchor="middle" font-size="6.7" textLength="31" lengthAdjust="spacingAndGlyphs">Nr of pairs</text><text x="9.70" y="297.30" font-size="6.8" textLength="9.1" lengthAdjust="spacingAndGlyphs">0.0</text><text x="9.70" y="257.38" font-size="6.8" textLength="9.1" lengthAdjust="spacingAndGlyphs">0.2</text><text x="9.70" y="217.46" font-size="6.8" textLength="9.1" lengthAdjust="spacingAndGlyphs">0.4</text><text x="9.70" y="177.54" font-size="6.8" textLength="9.1" lengthAdjust="spacingAndGlyphs">0.6</text><text x="9.70" y="137.62" font-size="6.8" textLength="9.1" lengthAdjust="spacingAndGlyphs">0.8</text><text x="9.70" y="97.70" font-size="6.8" textLength="9.1" lengthAdjust="spacingAndGlyphs">1.0</text><text transform="translate(5.80,194.5) rotate(-90)" text-anchor="middle" font-size="6.9" textLength="86.6" lengthAdjust="spacingAndGlyphs">Predicted chemical similarity</text><text transform="translate(40.25,309.2) rotate(-90)" text-anchor="end" font-size="6.4" style="stroke-width:0.08px" textLength="26.3" lengthAdjust="spacingAndGlyphs">-0.0-<0.1</text><text transform="translate(59.19,309.2) rotate(-90)" text-anchor="end" font-size="6.4" style="stroke-width:0.08px" textLength="24.2" lengthAdjust="spacingAndGlyphs">0.1-<0.2</text><text transform="translate(78.13,309.2) rotate(-90)" text-anchor="end" font-size="6.4" style="stroke-width:0.08px" textLength="24.2" lengthAdjust="spacingAndGlyphs">0.2-<0.3</text><text transform="translate(97.07,309.2) rotate(-90)" text-anchor="end" font-size="6.4" style="stroke-width:0.08px" textLength="24.2" lengthAdjust="spacingAndGlyphs">0.3-<0.4</text><text transform="translate(116.01,309.2) rotate(-90)" text-anchor="end" font-size="6.4" style="stroke-width:0.08px" textLength="24.2" lengthAdjust="spacingAndGlyphs">0.4-<0.5</text><text transform="translate(134.95,309.2) rotate(-90)" text-anchor="end" font-size="6.4" style="stroke-width:0.08px" textLength="24.2" lengthAdjust="spacingAndGlyphs">0.5-<0.6</text><text transform="translate(153.89,309.2) rotate(-90)" text-anchor="end" font-size="6.4" style="stroke-width:0.08px" textLength="24.2" lengthAdjust="spacingAndGlyphs">0.6-<0.7</text><text transform="translate(172.83,309.2) rotate(-90)" text-anchor="end" font-size="6.4" style="stroke-width:0.08px" textLength="24.2" lengthAdjust="spacingAndGlyphs">0.7-<0.8</text><text transform="translate(191.77,309.2) rotate(-90)" text-anchor="end" font-size="6.4" style="stroke-width:0.08px" textLength="24.2" lengthAdjust="spacingAndGlyphs">0.8-<0.9</text><text transform="translate(210.71,309.2) rotate(-90)" text-anchor="end" font-size="6.4" style="stroke-width:0.08px" textLength="24.2" lengthAdjust="spacingAndGlyphs">0.9-<1.0</text><text x="123.00" y="342.6" text-anchor="middle" font-size="6.9" style="stroke-width:0.06px" textLength="71.5" lengthAdjust="spacingAndGlyphs">True chemical similarity</text><text x="229.90" y="9.1" font-size="12" textLength="9.1" lengthAdjust="spacingAndGlyphs">b)</text><text x="317.50" y="15.7" font-size="8.8" style="stroke-width:0.05px" textLength="72.50" lengthAdjust="spacingAndGlyphs">positive vs negative</text><text x="238.75" y="25.05" font-size="6.9" textLength="6.3" lengthAdjust="spacingAndGlyphs">10</text><text x="246.05" y="22.40" font-size="4.3" textLength="2.5" lengthAdjust="spacingAndGlyphs">6</text><text x="238.75" y="50.75" font-size="6.9" textLength="6.3" lengthAdjust="spacingAndGlyphs">10</text><text x="246.05" y="48.10" font-size="4.3" textLength="2.5" lengthAdjust="spacingAndGlyphs">4</text><text x="238.75" y="76.05" font-size="6.9" textLength="6.3" lengthAdjust="spacingAndGlyphs">10</text><text x="246.05" y="73.40" font-size="4.3" textLength="2.5" lengthAdjust="spacingAndGlyphs">2</text><text transform="translate(235.85,46.4) rotate(-90)" text-anchor="middle" font-size="6.7" textLength="31" lengthAdjust="spacingAndGlyphs">Nr of pairs</text><text x="239.65" y="297.30" font-size="6.8" textLength="9.1" lengthAdjust="spacingAndGlyphs">0.0</text><text x="239.65" y="257.38" font-size="6.8" textLength="9.1" lengthAdjust="spacingAndGlyphs">0.2</text><text x="239.65" y="217.46" font-size="6.8" textLength="9.1" lengthAdjust="spacingAndGlyphs">0.4</text><text x="239.65" y="177.54" font-size="6.8" textLength="9.1" lengthAdjust="spacingAndGlyphs">0.6</text><text x="239.65" y="137.62" font-size="6.8" textLength="9.1" lengthAdjust="spacingAndGlyphs">0.8</text><text x="239.65" y="97.70" font-size="6.8" textLength="9.1" lengthAdjust="spacingAndGlyphs">1.0</text><text transform="translate(235.75,194.5) rotate(-90)" text-anchor="middle" font-size="6.9" textLength="86.6" lengthAdjust="spacingAndGlyphs">Predicted chemical similarity</text><text transform="translate(270.65,309.2) rotate(-90)" text-anchor="end" font-size="6.4" style="stroke-width:0.08px" textLength="26.3" lengthAdjust="spacingAndGlyphs">-0.0-<0.1</text><text transform="translate(289.64,309.2) rotate(-90)" text-anchor="end" font-size="6.4" style="stroke-width:0.08px" textLength="24.2" lengthAdjust="spacingAndGlyphs">0.1-<0.2</text><text transform="translate(308.63,309.2) rotate(-90)" text-anchor="end" font-size="6.4" style="stroke-width:0.08px" textLength="24.2" lengthAdjust="spacingAndGlyphs">0.2-<0.3</text><text transform="translate(327.62,309.2) rotate(-90)" text-anchor="end" font-size="6.4" style="stroke-width:0.08px" textLength="24.2" lengthAdjust="spacingAndGlyphs">0.3-<0.4</text><text transform="translate(346.61,309.2) rotate(-90)" text-anchor="end" font-size="6.4" style="stroke-width:0.08px" textLength="24.2" lengthAdjust="spacingAndGlyphs">0.4-<0.5</text><text transform="translate(365.60,309.2) rotate(-90)" text-anchor="end" font-size="6.4" style="stroke-width:0.08px" textLength="24.2" lengthAdjust="spacingAndGlyphs">0.5-<0.6</text><text transform="translate(384.59,309.2) rotate(-90)" text-anchor="end" font-size="6.4" style="stroke-width:0.08px" textLength="24.2" lengthAdjust="spacingAndGlyphs">0.6-<0.7</text><text transform="translate(403.58,309.2) rotate(-90)" text-anchor="end" font-size="6.4" style="stroke-width:0.08px" textLength="24.2" lengthAdjust="spacingAndGlyphs">0.7-<0.8</text><text transform="translate(422.57,309.2) rotate(-90)" text-anchor="end" font-size="6.4" style="stroke-width:0.08px" textLength="24.2" lengthAdjust="spacingAndGlyphs">0.8-<0.9</text><text transform="translate(441.56,309.2) rotate(-90)" text-anchor="end" font-size="6.4" style="stroke-width:0.08px" textLength="24.2" lengthAdjust="spacingAndGlyphs">0.9-<1.0</text><text x="353.38" y="342.6" text-anchor="middle" font-size="6.9" style="stroke-width:0.06px" textLength="71.5" lengthAdjust="spacingAndGlyphs">True chemical similarity</text><text x="462.30" y="9.1" font-size="12" textLength="9.1" lengthAdjust="spacingAndGlyphs">c)</text><text x="546.50" y="15.7" font-size="8.8" style="stroke-width:0.05px" textLength="76.25" lengthAdjust="spacingAndGlyphs">negative vs negative</text><text x="469.60" y="25.05" font-size="6.9" textLength="6.3" lengthAdjust="spacingAndGlyphs">10</text><text x="476.90" y="22.40" font-size="4.3" textLength="2.5" lengthAdjust="spacingAndGlyphs">6</text><text x="469.60" y="50.75" font-size="6.9" textLength="6.3" lengthAdjust="spacingAndGlyphs">10</text><text x="476.90" y="48.10" font-size="4.3" textLength="2.5" lengthAdjust="spacingAndGlyphs">4</text><text x="469.60" y="76.05" font-size="6.9" textLength="6.3" lengthAdjust="spacingAndGlyphs">10</text><text x="476.90" y="73.40" font-size="4.3" textLength="2.5" lengthAdjust="spacingAndGlyphs">2</text><text transform="translate(466.70,46.4) rotate(-90)" text-anchor="middle" font-size="6.7" textLength="31" lengthAdjust="spacingAndGlyphs">Nr of pairs</text><text x="470.50" y="297.30" font-size="6.8" textLength="9.1" lengthAdjust="spacingAndGlyphs">0.0</text><text x="470.50" y="257.38" font-size="6.8" textLength="9.1" lengthAdjust="spacingAndGlyphs">0.2</text><text x="470.50" y="217.46" font-size="6.8" textLength="9.1" lengthAdjust="spacingAndGlyphs">0.4</text><text x="470.50" y="177.54" font-size="6.8" textLength="9.1" lengthAdjust="spacingAndGlyphs">0.6</text><text x="470.50" y="137.62" font-size="6.8" textLength="9.1" lengthAdjust="spacingAndGlyphs">0.8</text><text x="470.50" y="97.70" font-size="6.8" textLength="9.1" lengthAdjust="spacingAndGlyphs">1.0</text><text transform="translate(466.60,194.5) rotate(-90)" text-anchor="middle" font-size="6.9" textLength="86.6" lengthAdjust="spacingAndGlyphs">Predicted chemical similarity</text><text transform="translate(501.60,309.2) rotate(-90)" text-anchor="end" font-size="6.4" style="stroke-width:0.08px" textLength="26.3" lengthAdjust="spacingAndGlyphs">-0.0-<0.1</text><text transform="translate(520.56,309.2) rotate(-90)" text-anchor="end" font-size="6.4" style="stroke-width:0.08px" textLength="24.2" lengthAdjust="spacingAndGlyphs">0.1-<0.2</text><text transform="translate(539.52,309.2) rotate(-90)" text-anchor="end" font-size="6.4" style="stroke-width:0.08px" textLength="24.2" lengthAdjust="spacingAndGlyphs">0.2-<0.3</text><text transform="translate(558.48,309.2) rotate(-90)" text-anchor="end" font-size="6.4" style="stroke-width:0.08px" textLength="24.2" lengthAdjust="spacingAndGlyphs">0.3-<0.4</text><text transform="translate(577.44,309.2) rotate(-90)" text-anchor="end" font-size="6.4" style="stroke-width:0.08px" textLength="24.2" lengthAdjust="spacingAndGlyphs">0.4-<0.5</text><text transform="translate(596.40,309.2) rotate(-90)" text-anchor="end" font-size="6.4" style="stroke-width:0.08px" textLength="24.2" lengthAdjust="spacingAndGlyphs">0.5-<0.6</text><text transform="translate(615.36,309.2) rotate(-90)" text-anchor="end" font-size="6.4" style="stroke-width:0.08px" textLength="24.2" lengthAdjust="spacingAndGlyphs">0.6-<0.7</text><text transform="translate(634.32,309.2) rotate(-90)" text-anchor="end" font-size="6.4" style="stroke-width:0.08px" textLength="24.2" lengthAdjust="spacingAndGlyphs">0.7-<0.8</text><text transform="translate(653.28,309.2) rotate(-90)" text-anchor="end" font-size="6.4" style="stroke-width:0.08px" textLength="24.2" lengthAdjust="spacingAndGlyphs">0.8-<0.9</text><text transform="translate(672.24,309.2) rotate(-90)" text-anchor="end" font-size="6.4" style="stroke-width:0.08px" textLength="24.2" lengthAdjust="spacingAndGlyphs">0.9-<1.0</text><text x="583.80" y="342.6" text-anchor="middle" font-size="6.9" style="stroke-width:0.06px" textLength="71.5" lengthAdjust="spacingAndGlyphs">True chemical similarity</text></g>
</svg></body></html>
